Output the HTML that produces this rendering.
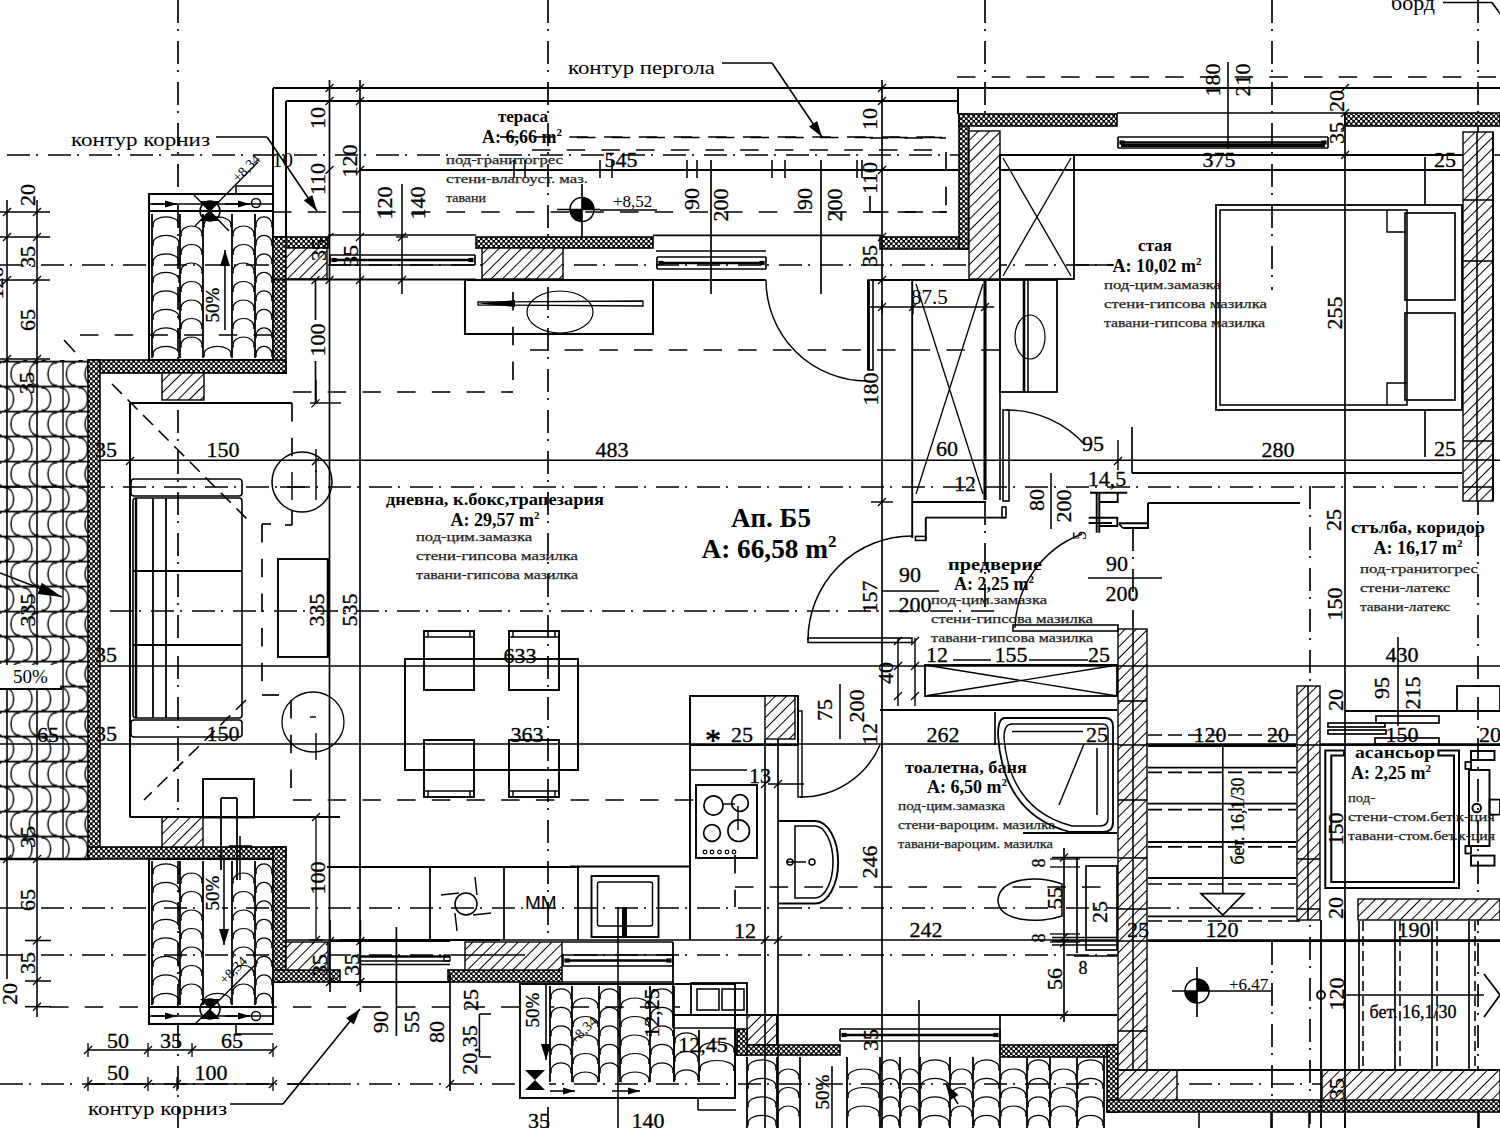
<!DOCTYPE html>
<html><head><meta charset="utf-8"><title>plan</title>
<style>html,body{margin:0;padding:0;background:#fff;overflow:hidden;width:1500px;height:1128px}
svg{display:block;font-family:"Liberation Serif",serif}</style></head>
<body><svg width="1500" height="1128" viewBox="0 0 1500 1128">
<defs>
<pattern id="dots" width="5" height="5" patternUnits="userSpaceOnUse">
 <rect width="5" height="5" fill="#000"/>
 <circle cx="1.25" cy="1.25" r="1.3" fill="#fff"/>
 <circle cx="3.75" cy="3.75" r="1.3" fill="#fff"/>
</pattern>
<pattern id="hatch" width="8" height="8" patternUnits="userSpaceOnUse" patternTransform="rotate(45)">
 <rect width="8" height="8" fill="#fff"/>
 <line x1="0" y1="0" x2="0" y2="8" stroke="#000" stroke-width="2"/>
</pattern>
<pattern id="tilev" width="51" height="19" patternUnits="userSpaceOnUse">
 <rect width="51" height="19" fill="#fff"/>
 <line x1="0.8" y1="0" x2="0.8" y2="19" stroke="#000" stroke-width="1.8"/>
 <line x1="25.5" y1="0" x2="25.5" y2="19" stroke="#000" stroke-width="1.8"/>
 <path d="M2,14 A11.5,9 0 0 1 24.5,14" fill="none" stroke="#000" stroke-width="1.2"/>
 <path d="M27,4.5 A11.5,9 0 0 1 50,4.5" fill="none" stroke="#000" stroke-width="1.2"/>
 <path d="M27,23.5 A11.5,9 0 0 1 50,23.5" fill="none" stroke="#000" stroke-width="1.2"/>
</pattern>
<pattern id="tileh" width="18.5" height="50" y="10.7" x="3" patternUnits="userSpaceOnUse">
 <rect width="18.5" height="50" fill="#fff"/>
 <line x1="0" y1="0.8" x2="18.5" y2="0.8" stroke="#000" stroke-width="1.8"/>
 <line x1="0" y1="25.8" x2="18.5" y2="25.8" stroke="#000" stroke-width="1.8"/>
 <path d="M14,2.2 A8,11.5 0 0 0 14,24.5 M14,2.2 l3,0 M14,24.5 l3,0" fill="none" stroke="#000" stroke-width="1.5"/>
 <path d="M4.5,27.2 A8,11.5 0 0 1 4.5,49.5 M4.5,27.2 l-3,0 M4.5,49.5 l-3,0" fill="none" stroke="#000" stroke-width="1.5"/>
</pattern>
</defs>
<rect width="1500" height="1128" fill="#fff"/><rect x="0" y="360" width="88" height="499" fill="url(#tileh)" stroke="none"/>
<g>
<path d="M153.2,224.2 A12.8,7.4 0 0 1 178.8,224.2" fill="none" stroke="#000" stroke-width="1.2"/>
<path d="M153.2,224.2 l0,3 M178.8,224.2 l0,3" stroke="#000" stroke-width="1.2"/>
<path d="M153.2,242.7 A12.8,7.4 0 0 1 178.8,242.7" fill="none" stroke="#000" stroke-width="1.2"/>
<path d="M153.2,242.7 l0,3 M178.8,242.7 l0,3" stroke="#000" stroke-width="1.2"/>
<path d="M153.2,261.2 A12.8,7.4 0 0 1 178.8,261.2" fill="none" stroke="#000" stroke-width="1.2"/>
<path d="M153.2,261.2 l0,3 M178.8,261.2 l0,3" stroke="#000" stroke-width="1.2"/>
<path d="M153.2,279.7 A12.8,7.4 0 0 1 178.8,279.7" fill="none" stroke="#000" stroke-width="1.2"/>
<path d="M153.2,279.7 l0,3 M178.8,279.7 l0,3" stroke="#000" stroke-width="1.2"/>
<path d="M153.2,298.2 A12.8,7.4 0 0 1 178.8,298.2" fill="none" stroke="#000" stroke-width="1.2"/>
<path d="M153.2,298.2 l0,3 M178.8,298.2 l0,3" stroke="#000" stroke-width="1.2"/>
<path d="M153.2,316.7 A12.8,7.4 0 0 1 178.8,316.7" fill="none" stroke="#000" stroke-width="1.2"/>
<path d="M153.2,316.7 l0,3 M178.8,316.7 l0,3" stroke="#000" stroke-width="1.2"/>
<path d="M153.2,335.2 A12.8,7.4 0 0 1 178.8,335.2" fill="none" stroke="#000" stroke-width="1.2"/>
<path d="M153.2,335.2 l0,3 M178.8,335.2 l0,3" stroke="#000" stroke-width="1.2"/>
<path d="M153.2,353.7 A12.8,7.4 0 0 1 178.8,353.7" fill="none" stroke="#000" stroke-width="1.2"/>
<path d="M153.2,353.7 l0,3 M178.8,353.7 l0,3" stroke="#000" stroke-width="1.2"/>
<path d="M181.2,233.4 A10.3,7.4 0 0 1 201.8,233.4" fill="none" stroke="#000" stroke-width="1.2"/>
<path d="M181.2,233.4 l0,3 M201.8,233.4 l0,3" stroke="#000" stroke-width="1.2"/>
<path d="M181.2,251.9 A10.3,7.4 0 0 1 201.8,251.9" fill="none" stroke="#000" stroke-width="1.2"/>
<path d="M181.2,251.9 l0,3 M201.8,251.9 l0,3" stroke="#000" stroke-width="1.2"/>
<path d="M181.2,270.4 A10.3,7.4 0 0 1 201.8,270.4" fill="none" stroke="#000" stroke-width="1.2"/>
<path d="M181.2,270.4 l0,3 M201.8,270.4 l0,3" stroke="#000" stroke-width="1.2"/>
<path d="M181.2,288.9 A10.3,7.4 0 0 1 201.8,288.9" fill="none" stroke="#000" stroke-width="1.2"/>
<path d="M181.2,288.9 l0,3 M201.8,288.9 l0,3" stroke="#000" stroke-width="1.2"/>
<path d="M181.2,307.4 A10.3,7.4 0 0 1 201.8,307.4" fill="none" stroke="#000" stroke-width="1.2"/>
<path d="M181.2,307.4 l0,3 M201.8,307.4 l0,3" stroke="#000" stroke-width="1.2"/>
<path d="M181.2,325.9 A10.3,7.4 0 0 1 201.8,325.9" fill="none" stroke="#000" stroke-width="1.2"/>
<path d="M181.2,325.9 l0,3 M201.8,325.9 l0,3" stroke="#000" stroke-width="1.2"/>
<path d="M181.2,344.4 A10.3,7.4 0 0 1 201.8,344.4" fill="none" stroke="#000" stroke-width="1.2"/>
<path d="M181.2,344.4 l0,3 M201.8,344.4 l0,3" stroke="#000" stroke-width="1.2"/>
<path d="M204.2,224.2 A13.3,7.4 0 0 1 230.8,224.2" fill="none" stroke="#000" stroke-width="1.2"/>
<path d="M204.2,224.2 l0,3 M230.8,224.2 l0,3" stroke="#000" stroke-width="1.2"/>
<path d="M204.2,353.7 A13.3,7.4 0 0 1 230.8,353.7" fill="none" stroke="#000" stroke-width="1.2"/>
<path d="M204.2,353.7 l0,3 M230.8,353.7 l0,3" stroke="#000" stroke-width="1.2"/>
<path d="M233.2,233.4 A10.3,7.4 0 0 1 253.8,233.4" fill="none" stroke="#000" stroke-width="1.2"/>
<path d="M233.2,233.4 l0,3 M253.8,233.4 l0,3" stroke="#000" stroke-width="1.2"/>
<path d="M233.2,251.9 A10.3,7.4 0 0 1 253.8,251.9" fill="none" stroke="#000" stroke-width="1.2"/>
<path d="M233.2,251.9 l0,3 M253.8,251.9 l0,3" stroke="#000" stroke-width="1.2"/>
<path d="M233.2,270.4 A10.3,7.4 0 0 1 253.8,270.4" fill="none" stroke="#000" stroke-width="1.2"/>
<path d="M233.2,270.4 l0,3 M253.8,270.4 l0,3" stroke="#000" stroke-width="1.2"/>
<path d="M233.2,288.9 A10.3,7.4 0 0 1 253.8,288.9" fill="none" stroke="#000" stroke-width="1.2"/>
<path d="M233.2,288.9 l0,3 M253.8,288.9 l0,3" stroke="#000" stroke-width="1.2"/>
<path d="M233.2,307.4 A10.3,7.4 0 0 1 253.8,307.4" fill="none" stroke="#000" stroke-width="1.2"/>
<path d="M233.2,307.4 l0,3 M253.8,307.4 l0,3" stroke="#000" stroke-width="1.2"/>
<path d="M233.2,325.9 A10.3,7.4 0 0 1 253.8,325.9" fill="none" stroke="#000" stroke-width="1.2"/>
<path d="M233.2,325.9 l0,3 M253.8,325.9 l0,3" stroke="#000" stroke-width="1.2"/>
<path d="M233.2,344.4 A10.3,7.4 0 0 1 253.8,344.4" fill="none" stroke="#000" stroke-width="1.2"/>
<path d="M233.2,344.4 l0,3 M253.8,344.4 l0,3" stroke="#000" stroke-width="1.2"/>
<path d="M256.2,224.2 A7.8,7.4 0 0 1 271.8,224.2" fill="none" stroke="#000" stroke-width="1.2"/>
<path d="M256.2,224.2 l0,3 M271.8,224.2 l0,3" stroke="#000" stroke-width="1.2"/>
<path d="M256.2,242.7 A7.8,7.4 0 0 1 271.8,242.7" fill="none" stroke="#000" stroke-width="1.2"/>
<path d="M256.2,242.7 l0,3 M271.8,242.7 l0,3" stroke="#000" stroke-width="1.2"/>
<path d="M256.2,261.2 A7.8,7.4 0 0 1 271.8,261.2" fill="none" stroke="#000" stroke-width="1.2"/>
<path d="M256.2,261.2 l0,3 M271.8,261.2 l0,3" stroke="#000" stroke-width="1.2"/>
<path d="M256.2,279.7 A7.8,7.4 0 0 1 271.8,279.7" fill="none" stroke="#000" stroke-width="1.2"/>
<path d="M256.2,279.7 l0,3 M271.8,279.7 l0,3" stroke="#000" stroke-width="1.2"/>
<path d="M256.2,298.2 A7.8,7.4 0 0 1 271.8,298.2" fill="none" stroke="#000" stroke-width="1.2"/>
<path d="M256.2,298.2 l0,3 M271.8,298.2 l0,3" stroke="#000" stroke-width="1.2"/>
<path d="M256.2,316.7 A7.8,7.4 0 0 1 271.8,316.7" fill="none" stroke="#000" stroke-width="1.2"/>
<path d="M256.2,316.7 l0,3 M271.8,316.7 l0,3" stroke="#000" stroke-width="1.2"/>
<path d="M256.2,335.2 A7.8,7.4 0 0 1 271.8,335.2" fill="none" stroke="#000" stroke-width="1.2"/>
<path d="M256.2,335.2 l0,3 M271.8,335.2 l0,3" stroke="#000" stroke-width="1.2"/>
<path d="M256.2,353.7 A7.8,7.4 0 0 1 271.8,353.7" fill="none" stroke="#000" stroke-width="1.2"/>
<path d="M256.2,353.7 l0,3 M271.8,353.7 l0,3" stroke="#000" stroke-width="1.2"/>
<line x1="152" y1="214" x2="152" y2="358" stroke="#000" stroke-width="1.8" />
<line x1="180" y1="214" x2="180" y2="358" stroke="#000" stroke-width="1.8" />
<line x1="203" y1="214" x2="203" y2="358" stroke="#000" stroke-width="1.8" />
<line x1="232" y1="214" x2="232" y2="358" stroke="#000" stroke-width="1.8" />
<line x1="255" y1="214" x2="255" y2="358" stroke="#000" stroke-width="1.8" />
<line x1="273" y1="214" x2="273" y2="358" stroke="#000" stroke-width="1.8" />
</g>
<g>
<path d="M153.2,871.2 A12.8,7.4 0 0 1 178.8,871.2" fill="none" stroke="#000" stroke-width="1.2"/>
<path d="M153.2,871.2 l0,3 M178.8,871.2 l0,3" stroke="#000" stroke-width="1.2"/>
<path d="M153.2,889.7 A12.8,7.4 0 0 1 178.8,889.7" fill="none" stroke="#000" stroke-width="1.2"/>
<path d="M153.2,889.7 l0,3 M178.8,889.7 l0,3" stroke="#000" stroke-width="1.2"/>
<path d="M153.2,908.2 A12.8,7.4 0 0 1 178.8,908.2" fill="none" stroke="#000" stroke-width="1.2"/>
<path d="M153.2,908.2 l0,3 M178.8,908.2 l0,3" stroke="#000" stroke-width="1.2"/>
<path d="M153.2,926.7 A12.8,7.4 0 0 1 178.8,926.7" fill="none" stroke="#000" stroke-width="1.2"/>
<path d="M153.2,926.7 l0,3 M178.8,926.7 l0,3" stroke="#000" stroke-width="1.2"/>
<path d="M153.2,945.2 A12.8,7.4 0 0 1 178.8,945.2" fill="none" stroke="#000" stroke-width="1.2"/>
<path d="M153.2,945.2 l0,3 M178.8,945.2 l0,3" stroke="#000" stroke-width="1.2"/>
<path d="M153.2,963.7 A12.8,7.4 0 0 1 178.8,963.7" fill="none" stroke="#000" stroke-width="1.2"/>
<path d="M153.2,963.7 l0,3 M178.8,963.7 l0,3" stroke="#000" stroke-width="1.2"/>
<path d="M153.2,982.2 A12.8,7.4 0 0 1 178.8,982.2" fill="none" stroke="#000" stroke-width="1.2"/>
<path d="M153.2,982.2 l0,3 M178.8,982.2 l0,3" stroke="#000" stroke-width="1.2"/>
<path d="M153.2,1000.7 A12.8,7.4 0 0 1 178.8,1000.7" fill="none" stroke="#000" stroke-width="1.2"/>
<path d="M153.2,1000.7 l0,3 M178.8,1000.7 l0,3" stroke="#000" stroke-width="1.2"/>
<path d="M181.2,880.4 A10.3,7.4 0 0 1 201.8,880.4" fill="none" stroke="#000" stroke-width="1.2"/>
<path d="M181.2,880.4 l0,3 M201.8,880.4 l0,3" stroke="#000" stroke-width="1.2"/>
<path d="M181.2,898.9 A10.3,7.4 0 0 1 201.8,898.9" fill="none" stroke="#000" stroke-width="1.2"/>
<path d="M181.2,898.9 l0,3 M201.8,898.9 l0,3" stroke="#000" stroke-width="1.2"/>
<path d="M181.2,917.4 A10.3,7.4 0 0 1 201.8,917.4" fill="none" stroke="#000" stroke-width="1.2"/>
<path d="M181.2,917.4 l0,3 M201.8,917.4 l0,3" stroke="#000" stroke-width="1.2"/>
<path d="M181.2,935.9 A10.3,7.4 0 0 1 201.8,935.9" fill="none" stroke="#000" stroke-width="1.2"/>
<path d="M181.2,935.9 l0,3 M201.8,935.9 l0,3" stroke="#000" stroke-width="1.2"/>
<path d="M181.2,954.4 A10.3,7.4 0 0 1 201.8,954.4" fill="none" stroke="#000" stroke-width="1.2"/>
<path d="M181.2,954.4 l0,3 M201.8,954.4 l0,3" stroke="#000" stroke-width="1.2"/>
<path d="M181.2,972.9 A10.3,7.4 0 0 1 201.8,972.9" fill="none" stroke="#000" stroke-width="1.2"/>
<path d="M181.2,972.9 l0,3 M201.8,972.9 l0,3" stroke="#000" stroke-width="1.2"/>
<path d="M181.2,991.4 A10.3,7.4 0 0 1 201.8,991.4" fill="none" stroke="#000" stroke-width="1.2"/>
<path d="M181.2,991.4 l0,3 M201.8,991.4 l0,3" stroke="#000" stroke-width="1.2"/>
<path d="M204.2,1000.7 A13.3,7.4 0 0 1 230.8,1000.7" fill="none" stroke="#000" stroke-width="1.2"/>
<path d="M204.2,1000.7 l0,3 M230.8,1000.7 l0,3" stroke="#000" stroke-width="1.2"/>
<path d="M233.2,880.4 A10.3,7.4 0 0 1 253.8,880.4" fill="none" stroke="#000" stroke-width="1.2"/>
<path d="M233.2,880.4 l0,3 M253.8,880.4 l0,3" stroke="#000" stroke-width="1.2"/>
<path d="M233.2,898.9 A10.3,7.4 0 0 1 253.8,898.9" fill="none" stroke="#000" stroke-width="1.2"/>
<path d="M233.2,898.9 l0,3 M253.8,898.9 l0,3" stroke="#000" stroke-width="1.2"/>
<path d="M233.2,917.4 A10.3,7.4 0 0 1 253.8,917.4" fill="none" stroke="#000" stroke-width="1.2"/>
<path d="M233.2,917.4 l0,3 M253.8,917.4 l0,3" stroke="#000" stroke-width="1.2"/>
<path d="M233.2,935.9 A10.3,7.4 0 0 1 253.8,935.9" fill="none" stroke="#000" stroke-width="1.2"/>
<path d="M233.2,935.9 l0,3 M253.8,935.9 l0,3" stroke="#000" stroke-width="1.2"/>
<path d="M233.2,954.4 A10.3,7.4 0 0 1 253.8,954.4" fill="none" stroke="#000" stroke-width="1.2"/>
<path d="M233.2,954.4 l0,3 M253.8,954.4 l0,3" stroke="#000" stroke-width="1.2"/>
<path d="M233.2,972.9 A10.3,7.4 0 0 1 253.8,972.9" fill="none" stroke="#000" stroke-width="1.2"/>
<path d="M233.2,972.9 l0,3 M253.8,972.9 l0,3" stroke="#000" stroke-width="1.2"/>
<path d="M233.2,991.4 A10.3,7.4 0 0 1 253.8,991.4" fill="none" stroke="#000" stroke-width="1.2"/>
<path d="M233.2,991.4 l0,3 M253.8,991.4 l0,3" stroke="#000" stroke-width="1.2"/>
<path d="M256.2,871.2 A7.8,7.4 0 0 1 271.8,871.2" fill="none" stroke="#000" stroke-width="1.2"/>
<path d="M256.2,871.2 l0,3 M271.8,871.2 l0,3" stroke="#000" stroke-width="1.2"/>
<path d="M256.2,889.7 A7.8,7.4 0 0 1 271.8,889.7" fill="none" stroke="#000" stroke-width="1.2"/>
<path d="M256.2,889.7 l0,3 M271.8,889.7 l0,3" stroke="#000" stroke-width="1.2"/>
<path d="M256.2,908.2 A7.8,7.4 0 0 1 271.8,908.2" fill="none" stroke="#000" stroke-width="1.2"/>
<path d="M256.2,908.2 l0,3 M271.8,908.2 l0,3" stroke="#000" stroke-width="1.2"/>
<path d="M256.2,926.7 A7.8,7.4 0 0 1 271.8,926.7" fill="none" stroke="#000" stroke-width="1.2"/>
<path d="M256.2,926.7 l0,3 M271.8,926.7 l0,3" stroke="#000" stroke-width="1.2"/>
<path d="M256.2,945.2 A7.8,7.4 0 0 1 271.8,945.2" fill="none" stroke="#000" stroke-width="1.2"/>
<path d="M256.2,945.2 l0,3 M271.8,945.2 l0,3" stroke="#000" stroke-width="1.2"/>
<path d="M256.2,963.7 A7.8,7.4 0 0 1 271.8,963.7" fill="none" stroke="#000" stroke-width="1.2"/>
<path d="M256.2,963.7 l0,3 M271.8,963.7 l0,3" stroke="#000" stroke-width="1.2"/>
<path d="M256.2,982.2 A7.8,7.4 0 0 1 271.8,982.2" fill="none" stroke="#000" stroke-width="1.2"/>
<path d="M256.2,982.2 l0,3 M271.8,982.2 l0,3" stroke="#000" stroke-width="1.2"/>
<path d="M256.2,1000.7 A7.8,7.4 0 0 1 271.8,1000.7" fill="none" stroke="#000" stroke-width="1.2"/>
<path d="M256.2,1000.7 l0,3 M271.8,1000.7 l0,3" stroke="#000" stroke-width="1.2"/>
<line x1="152" y1="861" x2="152" y2="1005" stroke="#000" stroke-width="1.8" />
<line x1="180" y1="861" x2="180" y2="1005" stroke="#000" stroke-width="1.8" />
<line x1="203" y1="861" x2="203" y2="1005" stroke="#000" stroke-width="1.8" />
<line x1="232" y1="861" x2="232" y2="1005" stroke="#000" stroke-width="1.8" />
<line x1="255" y1="861" x2="255" y2="1005" stroke="#000" stroke-width="1.8" />
<line x1="273" y1="861" x2="273" y2="1005" stroke="#000" stroke-width="1.8" />
</g>
<g>
<path d="M551.2,996.2 A9.8,7.4 0 0 1 570.8,996.2" fill="none" stroke="#000" stroke-width="1.2"/>
<path d="M551.2,996.2 l0,3 M570.8,996.2 l0,3" stroke="#000" stroke-width="1.2"/>
<path d="M551.2,1014.7 A9.8,7.4 0 0 1 570.8,1014.7" fill="none" stroke="#000" stroke-width="1.2"/>
<path d="M551.2,1014.7 l0,3 M570.8,1014.7 l0,3" stroke="#000" stroke-width="1.2"/>
<path d="M551.2,1033.2 A9.8,7.4 0 0 1 570.8,1033.2" fill="none" stroke="#000" stroke-width="1.2"/>
<path d="M551.2,1033.2 l0,3 M570.8,1033.2 l0,3" stroke="#000" stroke-width="1.2"/>
<path d="M551.2,1051.7 A9.8,7.4 0 0 1 570.8,1051.7" fill="none" stroke="#000" stroke-width="1.2"/>
<path d="M551.2,1051.7 l0,3 M570.8,1051.7 l0,3" stroke="#000" stroke-width="1.2"/>
<path d="M551.2,1070.2 A9.8,7.4 0 0 1 570.8,1070.2" fill="none" stroke="#000" stroke-width="1.2"/>
<path d="M551.2,1070.2 l0,3 M570.8,1070.2 l0,3" stroke="#000" stroke-width="1.2"/>
<path d="M573.2,1005.4 A12.3,7.4 0 0 1 597.8,1005.4" fill="none" stroke="#000" stroke-width="1.2"/>
<path d="M573.2,1005.4 l0,3 M597.8,1005.4 l0,3" stroke="#000" stroke-width="1.2"/>
<path d="M573.2,1023.9 A12.3,7.4 0 0 1 597.8,1023.9" fill="none" stroke="#000" stroke-width="1.2"/>
<path d="M573.2,1023.9 l0,3 M597.8,1023.9 l0,3" stroke="#000" stroke-width="1.2"/>
<path d="M573.2,1042.4 A12.3,7.4 0 0 1 597.8,1042.4" fill="none" stroke="#000" stroke-width="1.2"/>
<path d="M573.2,1042.4 l0,3 M597.8,1042.4 l0,3" stroke="#000" stroke-width="1.2"/>
<path d="M573.2,1060.9 A12.3,7.4 0 0 1 597.8,1060.9" fill="none" stroke="#000" stroke-width="1.2"/>
<path d="M573.2,1060.9 l0,3 M597.8,1060.9 l0,3" stroke="#000" stroke-width="1.2"/>
<path d="M573.2,1079.4 A12.3,7.4 0 0 1 597.8,1079.4" fill="none" stroke="#000" stroke-width="1.2"/>
<path d="M573.2,1079.4 l0,3 M597.8,1079.4 l0,3" stroke="#000" stroke-width="1.2"/>
<path d="M600.2,996.2 A9.3,7.4 0 0 1 618.8,996.2" fill="none" stroke="#000" stroke-width="1.2"/>
<path d="M600.2,996.2 l0,3 M618.8,996.2 l0,3" stroke="#000" stroke-width="1.2"/>
<path d="M600.2,1014.7 A9.3,7.4 0 0 1 618.8,1014.7" fill="none" stroke="#000" stroke-width="1.2"/>
<path d="M600.2,1014.7 l0,3 M618.8,1014.7 l0,3" stroke="#000" stroke-width="1.2"/>
<path d="M600.2,1033.2 A9.3,7.4 0 0 1 618.8,1033.2" fill="none" stroke="#000" stroke-width="1.2"/>
<path d="M600.2,1033.2 l0,3 M618.8,1033.2 l0,3" stroke="#000" stroke-width="1.2"/>
<path d="M600.2,1051.7 A9.3,7.4 0 0 1 618.8,1051.7" fill="none" stroke="#000" stroke-width="1.2"/>
<path d="M600.2,1051.7 l0,3 M618.8,1051.7 l0,3" stroke="#000" stroke-width="1.2"/>
<path d="M600.2,1070.2 A9.3,7.4 0 0 1 618.8,1070.2" fill="none" stroke="#000" stroke-width="1.2"/>
<path d="M600.2,1070.2 l0,3 M618.8,1070.2 l0,3" stroke="#000" stroke-width="1.2"/>
<path d="M621.2,1005.4 A13.8,7.4 0 0 1 648.8,1005.4" fill="none" stroke="#000" stroke-width="1.2"/>
<path d="M621.2,1005.4 l0,3 M648.8,1005.4 l0,3" stroke="#000" stroke-width="1.2"/>
<path d="M621.2,1023.9 A13.8,7.4 0 0 1 648.8,1023.9" fill="none" stroke="#000" stroke-width="1.2"/>
<path d="M621.2,1023.9 l0,3 M648.8,1023.9 l0,3" stroke="#000" stroke-width="1.2"/>
<path d="M621.2,1042.4 A13.8,7.4 0 0 1 648.8,1042.4" fill="none" stroke="#000" stroke-width="1.2"/>
<path d="M621.2,1042.4 l0,3 M648.8,1042.4 l0,3" stroke="#000" stroke-width="1.2"/>
<path d="M621.2,1060.9 A13.8,7.4 0 0 1 648.8,1060.9" fill="none" stroke="#000" stroke-width="1.2"/>
<path d="M621.2,1060.9 l0,3 M648.8,1060.9 l0,3" stroke="#000" stroke-width="1.2"/>
<path d="M621.2,1079.4 A13.8,7.4 0 0 1 648.8,1079.4" fill="none" stroke="#000" stroke-width="1.2"/>
<path d="M621.2,1079.4 l0,3 M648.8,1079.4 l0,3" stroke="#000" stroke-width="1.2"/>
<path d="M651.2,996.2 A10.8,7.4 0 0 1 672.8,996.2" fill="none" stroke="#000" stroke-width="1.2"/>
<path d="M651.2,996.2 l0,3 M672.8,996.2 l0,3" stroke="#000" stroke-width="1.2"/>
<path d="M651.2,1014.7 A10.8,7.4 0 0 1 672.8,1014.7" fill="none" stroke="#000" stroke-width="1.2"/>
<path d="M651.2,1014.7 l0,3 M672.8,1014.7 l0,3" stroke="#000" stroke-width="1.2"/>
<path d="M651.2,1033.2 A10.8,7.4 0 0 1 672.8,1033.2" fill="none" stroke="#000" stroke-width="1.2"/>
<path d="M651.2,1033.2 l0,3 M672.8,1033.2 l0,3" stroke="#000" stroke-width="1.2"/>
<path d="M651.2,1051.7 A10.8,7.4 0 0 1 672.8,1051.7" fill="none" stroke="#000" stroke-width="1.2"/>
<path d="M651.2,1051.7 l0,3 M672.8,1051.7 l0,3" stroke="#000" stroke-width="1.2"/>
<path d="M651.2,1070.2 A10.8,7.4 0 0 1 672.8,1070.2" fill="none" stroke="#000" stroke-width="1.2"/>
<path d="M651.2,1070.2 l0,3 M672.8,1070.2 l0,3" stroke="#000" stroke-width="1.2"/>
<line x1="550" y1="986" x2="550" y2="1082" stroke="#000" stroke-width="1.8" />
<line x1="572" y1="986" x2="572" y2="1082" stroke="#000" stroke-width="1.8" />
<line x1="599" y1="986" x2="599" y2="1082" stroke="#000" stroke-width="1.8" />
<line x1="620" y1="986" x2="620" y2="1082" stroke="#000" stroke-width="1.8" />
<line x1="650" y1="986" x2="650" y2="1082" stroke="#000" stroke-width="1.8" />
<line x1="674" y1="986" x2="674" y2="1082" stroke="#000" stroke-width="1.8" />
</g>
<g>
<path d="M675.2,1040.2 A11.3,7.4 0 0 1 697.8,1040.2" fill="none" stroke="#000" stroke-width="1.2"/>
<path d="M675.2,1040.2 l0,3 M697.8,1040.2 l0,3" stroke="#000" stroke-width="1.2"/>
<path d="M675.2,1058.7 A11.3,7.4 0 0 1 697.8,1058.7" fill="none" stroke="#000" stroke-width="1.2"/>
<path d="M675.2,1058.7 l0,3 M697.8,1058.7 l0,3" stroke="#000" stroke-width="1.2"/>
<path d="M675.2,1077.2 A11.3,7.4 0 0 1 697.8,1077.2" fill="none" stroke="#000" stroke-width="1.2"/>
<path d="M675.2,1077.2 l0,3 M697.8,1077.2 l0,3" stroke="#000" stroke-width="1.2"/>
<path d="M700.2,1049.4 A16.8,7.4 0 0 1 733.8,1049.4" fill="none" stroke="#000" stroke-width="1.2"/>
<path d="M700.2,1049.4 l0,3 M733.8,1049.4 l0,3" stroke="#000" stroke-width="1.2"/>
<path d="M700.2,1067.9 A16.8,7.4 0 0 1 733.8,1067.9" fill="none" stroke="#000" stroke-width="1.2"/>
<path d="M700.2,1067.9 l0,3 M733.8,1067.9 l0,3" stroke="#000" stroke-width="1.2"/>
<line x1="674" y1="1030" x2="674" y2="1082" stroke="#000" stroke-width="1.8" />
<line x1="699" y1="1030" x2="699" y2="1082" stroke="#000" stroke-width="1.8" />
<line x1="735" y1="1030" x2="735" y2="1082" stroke="#000" stroke-width="1.8" />
</g>
<g>
<path d="M748.2,1067.2 A13.8,7.4 0 0 1 775.8,1067.2" fill="none" stroke="#000" stroke-width="1.2"/>
<path d="M748.2,1067.2 l0,3 M775.8,1067.2 l0,3" stroke="#000" stroke-width="1.2"/>
<path d="M748.2,1085.7 A13.8,7.4 0 0 1 775.8,1085.7" fill="none" stroke="#000" stroke-width="1.2"/>
<path d="M748.2,1085.7 l0,3 M775.8,1085.7 l0,3" stroke="#000" stroke-width="1.2"/>
<path d="M748.2,1104.2 A13.8,7.4 0 0 1 775.8,1104.2" fill="none" stroke="#000" stroke-width="1.2"/>
<path d="M748.2,1104.2 l0,3 M775.8,1104.2 l0,3" stroke="#000" stroke-width="1.2"/>
<path d="M748.2,1122.7 A13.8,7.4 0 0 1 775.8,1122.7" fill="none" stroke="#000" stroke-width="1.2"/>
<path d="M748.2,1122.7 l0,3 M775.8,1122.7 l0,3" stroke="#000" stroke-width="1.2"/>
<path d="M778.2,1076.4 A10.3,7.4 0 0 1 798.8,1076.4" fill="none" stroke="#000" stroke-width="1.2"/>
<path d="M778.2,1076.4 l0,3 M798.8,1076.4 l0,3" stroke="#000" stroke-width="1.2"/>
<path d="M778.2,1094.9 A10.3,7.4 0 0 1 798.8,1094.9" fill="none" stroke="#000" stroke-width="1.2"/>
<path d="M778.2,1094.9 l0,3 M798.8,1094.9 l0,3" stroke="#000" stroke-width="1.2"/>
<path d="M778.2,1113.4 A10.3,7.4 0 0 1 798.8,1113.4" fill="none" stroke="#000" stroke-width="1.2"/>
<path d="M778.2,1113.4 l0,3 M798.8,1113.4 l0,3" stroke="#000" stroke-width="1.2"/>
<path d="M848.2,1076.4 A15.3,7.4 0 0 1 878.8,1076.4" fill="none" stroke="#000" stroke-width="1.2"/>
<path d="M848.2,1076.4 l0,3 M878.8,1076.4 l0,3" stroke="#000" stroke-width="1.2"/>
<path d="M848.2,1094.9 A15.3,7.4 0 0 1 878.8,1094.9" fill="none" stroke="#000" stroke-width="1.2"/>
<path d="M848.2,1094.9 l0,3 M878.8,1094.9 l0,3" stroke="#000" stroke-width="1.2"/>
<path d="M848.2,1113.4 A15.3,7.4 0 0 1 878.8,1113.4" fill="none" stroke="#000" stroke-width="1.2"/>
<path d="M848.2,1113.4 l0,3 M878.8,1113.4 l0,3" stroke="#000" stroke-width="1.2"/>
<path d="M881.2,1067.2 A8.8,7.4 0 0 1 898.8,1067.2" fill="none" stroke="#000" stroke-width="1.2"/>
<path d="M881.2,1067.2 l0,3 M898.8,1067.2 l0,3" stroke="#000" stroke-width="1.2"/>
<path d="M881.2,1085.7 A8.8,7.4 0 0 1 898.8,1085.7" fill="none" stroke="#000" stroke-width="1.2"/>
<path d="M881.2,1085.7 l0,3 M898.8,1085.7 l0,3" stroke="#000" stroke-width="1.2"/>
<path d="M881.2,1104.2 A8.8,7.4 0 0 1 898.8,1104.2" fill="none" stroke="#000" stroke-width="1.2"/>
<path d="M881.2,1104.2 l0,3 M898.8,1104.2 l0,3" stroke="#000" stroke-width="1.2"/>
<path d="M881.2,1122.7 A8.8,7.4 0 0 1 898.8,1122.7" fill="none" stroke="#000" stroke-width="1.2"/>
<path d="M881.2,1122.7 l0,3 M898.8,1122.7 l0,3" stroke="#000" stroke-width="1.2"/>
<path d="M901.2,1076.4 A8.8,7.4 0 0 1 918.8,1076.4" fill="none" stroke="#000" stroke-width="1.2"/>
<path d="M901.2,1076.4 l0,3 M918.8,1076.4 l0,3" stroke="#000" stroke-width="1.2"/>
<path d="M901.2,1094.9 A8.8,7.4 0 0 1 918.8,1094.9" fill="none" stroke="#000" stroke-width="1.2"/>
<path d="M901.2,1094.9 l0,3 M918.8,1094.9 l0,3" stroke="#000" stroke-width="1.2"/>
<path d="M901.2,1113.4 A8.8,7.4 0 0 1 918.8,1113.4" fill="none" stroke="#000" stroke-width="1.2"/>
<path d="M901.2,1113.4 l0,3 M918.8,1113.4 l0,3" stroke="#000" stroke-width="1.2"/>
<path d="M921.2,1067.2 A13.8,7.4 0 0 1 948.8,1067.2" fill="none" stroke="#000" stroke-width="1.2"/>
<path d="M921.2,1067.2 l0,3 M948.8,1067.2 l0,3" stroke="#000" stroke-width="1.2"/>
<path d="M921.2,1085.7 A13.8,7.4 0 0 1 948.8,1085.7" fill="none" stroke="#000" stroke-width="1.2"/>
<path d="M921.2,1085.7 l0,3 M948.8,1085.7 l0,3" stroke="#000" stroke-width="1.2"/>
<path d="M921.2,1104.2 A13.8,7.4 0 0 1 948.8,1104.2" fill="none" stroke="#000" stroke-width="1.2"/>
<path d="M921.2,1104.2 l0,3 M948.8,1104.2 l0,3" stroke="#000" stroke-width="1.2"/>
<path d="M921.2,1122.7 A13.8,7.4 0 0 1 948.8,1122.7" fill="none" stroke="#000" stroke-width="1.2"/>
<path d="M921.2,1122.7 l0,3 M948.8,1122.7 l0,3" stroke="#000" stroke-width="1.2"/>
<path d="M951.2,1076.4 A10.3,7.4 0 0 1 971.8,1076.4" fill="none" stroke="#000" stroke-width="1.2"/>
<path d="M951.2,1076.4 l0,3 M971.8,1076.4 l0,3" stroke="#000" stroke-width="1.2"/>
<path d="M951.2,1094.9 A10.3,7.4 0 0 1 971.8,1094.9" fill="none" stroke="#000" stroke-width="1.2"/>
<path d="M951.2,1094.9 l0,3 M971.8,1094.9 l0,3" stroke="#000" stroke-width="1.2"/>
<path d="M951.2,1113.4 A10.3,7.4 0 0 1 971.8,1113.4" fill="none" stroke="#000" stroke-width="1.2"/>
<path d="M951.2,1113.4 l0,3 M971.8,1113.4 l0,3" stroke="#000" stroke-width="1.2"/>
<path d="M974.2,1067.2 A12.3,7.4 0 0 1 998.8,1067.2" fill="none" stroke="#000" stroke-width="1.2"/>
<path d="M974.2,1067.2 l0,3 M998.8,1067.2 l0,3" stroke="#000" stroke-width="1.2"/>
<path d="M974.2,1085.7 A12.3,7.4 0 0 1 998.8,1085.7" fill="none" stroke="#000" stroke-width="1.2"/>
<path d="M974.2,1085.7 l0,3 M998.8,1085.7 l0,3" stroke="#000" stroke-width="1.2"/>
<path d="M974.2,1104.2 A12.3,7.4 0 0 1 998.8,1104.2" fill="none" stroke="#000" stroke-width="1.2"/>
<path d="M974.2,1104.2 l0,3 M998.8,1104.2 l0,3" stroke="#000" stroke-width="1.2"/>
<path d="M974.2,1122.7 A12.3,7.4 0 0 1 998.8,1122.7" fill="none" stroke="#000" stroke-width="1.2"/>
<path d="M974.2,1122.7 l0,3 M998.8,1122.7 l0,3" stroke="#000" stroke-width="1.2"/>
<path d="M1001.2,1076.4 A12.3,7.4 0 0 1 1025.8,1076.4" fill="none" stroke="#000" stroke-width="1.2"/>
<path d="M1001.2,1076.4 l0,3 M1025.8,1076.4 l0,3" stroke="#000" stroke-width="1.2"/>
<path d="M1001.2,1094.9 A12.3,7.4 0 0 1 1025.8,1094.9" fill="none" stroke="#000" stroke-width="1.2"/>
<path d="M1001.2,1094.9 l0,3 M1025.8,1094.9 l0,3" stroke="#000" stroke-width="1.2"/>
<path d="M1001.2,1113.4 A12.3,7.4 0 0 1 1025.8,1113.4" fill="none" stroke="#000" stroke-width="1.2"/>
<path d="M1001.2,1113.4 l0,3 M1025.8,1113.4 l0,3" stroke="#000" stroke-width="1.2"/>
<path d="M1028.2,1067.2 A10.3,7.4 0 0 1 1048.8,1067.2" fill="none" stroke="#000" stroke-width="1.2"/>
<path d="M1028.2,1067.2 l0,3 M1048.8,1067.2 l0,3" stroke="#000" stroke-width="1.2"/>
<path d="M1028.2,1085.7 A10.3,7.4 0 0 1 1048.8,1085.7" fill="none" stroke="#000" stroke-width="1.2"/>
<path d="M1028.2,1085.7 l0,3 M1048.8,1085.7 l0,3" stroke="#000" stroke-width="1.2"/>
<path d="M1028.2,1104.2 A10.3,7.4 0 0 1 1048.8,1104.2" fill="none" stroke="#000" stroke-width="1.2"/>
<path d="M1028.2,1104.2 l0,3 M1048.8,1104.2 l0,3" stroke="#000" stroke-width="1.2"/>
<path d="M1028.2,1122.7 A10.3,7.4 0 0 1 1048.8,1122.7" fill="none" stroke="#000" stroke-width="1.2"/>
<path d="M1028.2,1122.7 l0,3 M1048.8,1122.7 l0,3" stroke="#000" stroke-width="1.2"/>
<path d="M1051.2,1076.4 A12.3,7.4 0 0 1 1075.8,1076.4" fill="none" stroke="#000" stroke-width="1.2"/>
<path d="M1051.2,1076.4 l0,3 M1075.8,1076.4 l0,3" stroke="#000" stroke-width="1.2"/>
<path d="M1051.2,1094.9 A12.3,7.4 0 0 1 1075.8,1094.9" fill="none" stroke="#000" stroke-width="1.2"/>
<path d="M1051.2,1094.9 l0,3 M1075.8,1094.9 l0,3" stroke="#000" stroke-width="1.2"/>
<path d="M1051.2,1113.4 A12.3,7.4 0 0 1 1075.8,1113.4" fill="none" stroke="#000" stroke-width="1.2"/>
<path d="M1051.2,1113.4 l0,3 M1075.8,1113.4 l0,3" stroke="#000" stroke-width="1.2"/>
<path d="M1078.2,1067.2 A12.3,7.4 0 0 1 1102.8,1067.2" fill="none" stroke="#000" stroke-width="1.2"/>
<path d="M1078.2,1067.2 l0,3 M1102.8,1067.2 l0,3" stroke="#000" stroke-width="1.2"/>
<path d="M1078.2,1085.7 A12.3,7.4 0 0 1 1102.8,1085.7" fill="none" stroke="#000" stroke-width="1.2"/>
<path d="M1078.2,1085.7 l0,3 M1102.8,1085.7 l0,3" stroke="#000" stroke-width="1.2"/>
<path d="M1078.2,1104.2 A12.3,7.4 0 0 1 1102.8,1104.2" fill="none" stroke="#000" stroke-width="1.2"/>
<path d="M1078.2,1104.2 l0,3 M1102.8,1104.2 l0,3" stroke="#000" stroke-width="1.2"/>
<path d="M1078.2,1122.7 A12.3,7.4 0 0 1 1102.8,1122.7" fill="none" stroke="#000" stroke-width="1.2"/>
<path d="M1078.2,1122.7 l0,3 M1102.8,1122.7 l0,3" stroke="#000" stroke-width="1.2"/>
<line x1="747" y1="1057" x2="747" y2="1128" stroke="#000" stroke-width="1.8" />
<line x1="777" y1="1057" x2="777" y2="1128" stroke="#000" stroke-width="1.8" />
<line x1="800" y1="1057" x2="800" y2="1128" stroke="#000" stroke-width="1.8" />
<line x1="847" y1="1057" x2="847" y2="1128" stroke="#000" stroke-width="1.8" />
<line x1="880" y1="1057" x2="880" y2="1128" stroke="#000" stroke-width="1.8" />
<line x1="900" y1="1057" x2="900" y2="1128" stroke="#000" stroke-width="1.8" />
<line x1="920" y1="1057" x2="920" y2="1128" stroke="#000" stroke-width="1.8" />
<line x1="950" y1="1057" x2="950" y2="1128" stroke="#000" stroke-width="1.8" />
<line x1="973" y1="1057" x2="973" y2="1128" stroke="#000" stroke-width="1.8" />
<line x1="1000" y1="1057" x2="1000" y2="1128" stroke="#000" stroke-width="1.8" />
<line x1="1027" y1="1057" x2="1027" y2="1128" stroke="#000" stroke-width="1.8" />
<line x1="1050" y1="1057" x2="1050" y2="1128" stroke="#000" stroke-width="1.8" />
<line x1="1077" y1="1057" x2="1077" y2="1128" stroke="#000" stroke-width="1.8" />
<line x1="1104" y1="1057" x2="1104" y2="1128" stroke="#000" stroke-width="1.8" />
</g>
<line x1="7" y1="155" x2="1500" y2="155" stroke="#000" stroke-width="1.68" stroke-dasharray="23 6 2 10" stroke-dashoffset="0"/>
<line x1="0" y1="265" x2="1113" y2="265" stroke="#000" stroke-width="1.68" stroke-dasharray="23 6 2 10" stroke-dashoffset="0"/>
<line x1="0" y1="487" x2="1463" y2="487" stroke="#000" stroke-width="1.68" stroke-dasharray="23 6 2 10" stroke-dashoffset="0"/>
<line x1="110" y1="611" x2="1000" y2="611" stroke="#000" stroke-width="1.68" stroke-dasharray="23 6 2 10" stroke-dashoffset="0"/>
<line x1="0" y1="908" x2="1300" y2="908" stroke="#000" stroke-width="1.68" stroke-dasharray="23 6 2 10" stroke-dashoffset="0"/>
<line x1="0" y1="955" x2="1118" y2="955" stroke="#000" stroke-width="1.68" stroke-dasharray="23 6 2 10" stroke-dashoffset="0"/>
<line x1="0" y1="1084" x2="1500" y2="1084" stroke="#000" stroke-width="1.68" stroke-dasharray="23 6 2 10" stroke-dashoffset="0"/>
<line x1="178" y1="0" x2="178" y2="1128" stroke="#000" stroke-width="1.68" stroke-dasharray="23 6 2 10" stroke-dashoffset="0"/>
<line x1="548" y1="0" x2="548" y2="1128" stroke="#000" stroke-width="1.68" stroke-dasharray="23 6 2 10" stroke-dashoffset="0"/>
<line x1="985" y1="0" x2="985" y2="114" stroke="#000" stroke-width="1.68" stroke-dasharray="23 6 2 10" stroke-dashoffset="0"/>
<line x1="1272" y1="0" x2="1272" y2="290" stroke="#000" stroke-width="1.68" stroke-dasharray="23 6 2 10" stroke-dashoffset="0"/>
<line x1="1272" y1="942" x2="1272" y2="1128" stroke="#000" stroke-width="1.68" stroke-dasharray="23 6 2 10" stroke-dashoffset="0"/>
<line x1="1478" y1="0" x2="1478" y2="1128" stroke="#000" stroke-width="1.68" stroke-dasharray="23 6 2 10" stroke-dashoffset="0"/>
<line x1="1310" y1="486" x2="1310" y2="1128" stroke="#000" stroke-width="1.68" stroke-dasharray="23 6 2 10" stroke-dashoffset="0"/>
<line x1="1133" y1="528" x2="1133" y2="752" stroke="#000" stroke-width="1.68" stroke-dasharray="23 6 2 10" stroke-dashoffset="0"/>
<line x1="957" y1="77" x2="1500" y2="77" stroke="#000" stroke-width="1.68" stroke-dasharray="18.5 16.2" stroke-dashoffset="0"/>
<line x1="500" y1="137" x2="947" y2="137" stroke="#000" stroke-width="1.68" stroke-dasharray="18.5 16.2" stroke-dashoffset="0"/>
<line x1="273" y1="212" x2="947" y2="212" stroke="#000" stroke-width="1.68" stroke-dasharray="18.5 16.2" stroke-dashoffset="0"/>
<line x1="530" y1="350" x2="1000" y2="350" stroke="#000" stroke-width="1.68" stroke-dasharray="18.5 16.2" stroke-dashoffset="0"/>
<line x1="80" y1="335" x2="272" y2="335" stroke="#000" stroke-width="1.68" stroke-dasharray="18.5 16.2" stroke-dashoffset="0"/>
<line x1="293" y1="800" x2="694" y2="800" stroke="#000" stroke-width="1.68" stroke-dasharray="18.5 16.2" stroke-dashoffset="0"/>
<line x1="735" y1="887" x2="1117" y2="887" stroke="#000" stroke-width="1.68" stroke-dasharray="18.5 16.2" stroke-dashoffset="0"/>
<line x1="50" y1="1007" x2="680" y2="1007" stroke="#000" stroke-width="1.68" stroke-dasharray="18.5 16.2" stroke-dashoffset="0"/>
<line x1="100" y1="460.3" x2="1500" y2="460.3" stroke="#000" stroke-width="1.56" />
<line x1="100" y1="666" x2="1500" y2="666" stroke="#000" stroke-width="1.56" />
<line x1="0" y1="744" x2="1500" y2="744" stroke="#000" stroke-width="1.56" />
<line x1="273" y1="940" x2="1500" y2="940" stroke="#000" stroke-width="1.56" />
<rect x="273" y="237" width="55" height="11" fill="url(#dots)" stroke="#000" stroke-width="1.6"/>
<rect x="273" y="237" width="13" height="136" fill="url(#dots)" stroke="#000" stroke-width="1.6"/>
<rect x="88" y="360" width="198" height="13" fill="url(#dots)" stroke="#000" stroke-width="1.6"/>
<rect x="88" y="360" width="12" height="499" fill="url(#dots)" stroke="#000" stroke-width="1.6"/>
<rect x="88" y="847" width="198" height="12" fill="url(#dots)" stroke="#000" stroke-width="1.6"/>
<rect x="273" y="847" width="13" height="135" fill="url(#dots)" stroke="#000" stroke-width="1.6"/>
<rect x="273" y="970" width="67" height="12" fill="url(#dots)" stroke="#000" stroke-width="1.6"/>
<rect x="286" y="248" width="41" height="31" fill="url(#hatch)" stroke="#000" stroke-width="1.4"/>
<rect x="286" y="942" width="42" height="28" fill="url(#hatch)" stroke="#000" stroke-width="1.4"/>
<rect x="162" y="373" width="42" height="27" fill="url(#hatch)" stroke="#000" stroke-width="1.4"/>
<rect x="162" y="817" width="41" height="30" fill="url(#hatch)" stroke="#000" stroke-width="1.4"/>
<rect x="476" y="237" width="177" height="11" fill="url(#dots)" stroke="#000" stroke-width="1.6"/>
<rect x="482" y="248" width="81" height="31" fill="url(#hatch)" stroke="#000" stroke-width="1.4"/>
<rect x="880" y="237" width="90" height="12" fill="url(#dots)" stroke="#000" stroke-width="1.6"/>
<rect x="959" y="114" width="10" height="135" fill="url(#dots)" stroke="#000" stroke-width="1.6"/>
<rect x="959" y="114" width="158" height="12" fill="url(#dots)" stroke="#000" stroke-width="1.6"/>
<rect x="969" y="131" width="31" height="148" fill="url(#hatch)" stroke="#000" stroke-width="1.4"/>
<rect x="1345" y="113" width="155" height="13" fill="url(#dots)" stroke="#000" stroke-width="1.6"/>
<rect x="1463" y="132" width="30" height="369" fill="url(#hatch)" stroke="#000" stroke-width="1.4"/>
<rect x="448" y="970" width="114" height="12" fill="url(#dots)" stroke="#000" stroke-width="1.6"/>
<rect x="465" y="942" width="97" height="28" fill="url(#hatch)" stroke="#000" stroke-width="1.4"/>
<rect x="747" y="1015" width="30" height="30" fill="url(#hatch)" stroke="#000" stroke-width="1.4"/>
<rect x="737" y="1045" width="103" height="10" fill="url(#dots)" stroke="#000" stroke-width="1.6"/>
<rect x="737" y="1029" width="10" height="26" fill="url(#dots)" stroke="#000" stroke-width="1.6"/>
<rect x="1000" y="1045" width="118" height="12" fill="url(#dots)" stroke="#000" stroke-width="1.6"/>
<rect x="1107" y="1045" width="11" height="67" fill="url(#dots)" stroke="#000" stroke-width="1.6"/>
<rect x="1107" y="1100" width="393" height="12" fill="url(#dots)" stroke="#000" stroke-width="1.6"/>
<rect x="1118" y="1070" width="59" height="30" fill="url(#hatch)" stroke="#000" stroke-width="1.4"/>
<rect x="1322" y="1070" width="178" height="30" fill="url(#hatch)" stroke="#000" stroke-width="1.4"/>
<rect x="1118" y="629" width="29" height="441" fill="url(#hatch)" stroke="#000" stroke-width="1.4"/>
<rect x="1297" y="686" width="23" height="234" fill="url(#hatch)" stroke="#000" stroke-width="1.4"/>
<rect x="1358" y="899" width="142" height="21" fill="url(#hatch)" stroke="#000" stroke-width="1.4"/>
<text x="71" y="146" font-size="18.5" font-family="Liberation Serif" text-anchor="start" font-weight="normal" textLength="139" lengthAdjust="spacingAndGlyphs" >контур корниз</text>
<line x1="216" y1="137" x2="267" y2="137" stroke="#000" stroke-width="1.56" />
<line x1="267" y1="137" x2="317" y2="211" stroke="#000" stroke-width="1.56" />
<path d="M317,211 L303.9,200.5 L312.2,194.9 Z" fill="#000"/>
<line x1="7" y1="200" x2="7" y2="979" stroke="#000" stroke-width="1.56" />
<line x1="37" y1="200" x2="37" y2="1017" stroke="#000" stroke-width="1.56" />
<line x1="0" y1="212" x2="50" y2="212" stroke="#000" stroke-width="1.56" />
<line x1="3" y1="216" x2="11" y2="208" stroke="#000" stroke-width="1.32" />
<line x1="33" y1="216" x2="41" y2="208" stroke="#000" stroke-width="1.32" />
<line x1="0" y1="237" x2="50" y2="237" stroke="#000" stroke-width="1.56" />
<line x1="3" y1="241" x2="11" y2="233" stroke="#000" stroke-width="1.32" />
<line x1="33" y1="241" x2="41" y2="233" stroke="#000" stroke-width="1.32" />
<line x1="0" y1="280" x2="50" y2="280" stroke="#000" stroke-width="1.56" />
<line x1="3" y1="284" x2="11" y2="276" stroke="#000" stroke-width="1.32" />
<line x1="33" y1="284" x2="41" y2="276" stroke="#000" stroke-width="1.32" />
<line x1="0" y1="359" x2="50" y2="359" stroke="#000" stroke-width="1.56" />
<line x1="3" y1="363" x2="11" y2="355" stroke="#000" stroke-width="1.32" />
<line x1="33" y1="363" x2="41" y2="355" stroke="#000" stroke-width="1.32" />
<text x="35.26" y="195" font-size="22" font-family="Liberation Serif" text-anchor="middle" font-weight="normal" transform="rotate(-90 35.26 195)" stroke="#000" stroke-width="0.3">20</text>
<text x="35.26" y="257" font-size="22" font-family="Liberation Serif" text-anchor="middle" font-weight="normal" transform="rotate(-90 35.26 257)" stroke="#000" stroke-width="0.3">35</text>
<text x="35.26" y="320" font-size="22" font-family="Liberation Serif" text-anchor="middle" font-weight="normal" transform="rotate(-90 35.26 320)" stroke="#000" stroke-width="0.3">65</text>
<text x="3.2600000000000007" y="283" font-size="22" font-family="Liberation Serif" text-anchor="middle" font-weight="normal" transform="rotate(-90 3.2600000000000007 283)" stroke="#000" stroke-width="0.3">120</text>
<rect x="149" y="194" width="124" height="166" fill="none" stroke="#000" stroke-width="2.04" />
<line x1="149" y1="204" x2="273" y2="204" stroke="#000" stroke-width="1.56" />
<line x1="149" y1="211" x2="273" y2="211" stroke="#000" stroke-width="2.04" />
<line x1="236" y1="186" x2="273" y2="186" stroke="#000" stroke-width="1.56" />
<line x1="236" y1="186" x2="236" y2="194" stroke="#000" stroke-width="1.56" />
<line x1="152" y1="204" x2="177" y2="204" stroke="#000" stroke-width="1.56" />
<path d="M177,204 L165.0,207.5 L165.0,200.5 Z" fill="#000"/>
<line x1="225" y1="204" x2="250" y2="204" stroke="#000" stroke-width="1.56" />
<path d="M250,204 L238.0,207.5 L238.0,200.5 Z" fill="#000"/>
<circle cx="256" cy="203" r="4.5" fill="none" stroke="#000" stroke-width="1.44"/>
<path d="M200,201 L220,201 L210,211 Z M200,221 L220,221 L210,211 Z" fill="#000"/>
<circle cx="210" cy="211" r="10" fill="none" stroke="#000" stroke-width="1.56"/>
<line x1="195" y1="226" x2="258" y2="162" stroke="#000" stroke-width="1.32" />
<text x="238" y="183" font-size="14" font-family="Liberation Serif" text-anchor="start" font-weight="normal" transform="rotate(-45 238 183)" >+8,34</text>
<line x1="225" y1="330" x2="225" y2="250" stroke="#000" stroke-width="1.56" />
<path d="M225,250 L230.0,266.0 L220.0,266.0 Z" fill="#000"/>
<rect x="205" y="282" width="17" height="46" fill="#fff"/>
<text x="219.27" y="305" font-size="19" font-family="Liberation Serif" text-anchor="middle" font-weight="normal" transform="rotate(-90 219.27 305)" stroke="#000" stroke-width="0.3">50%</text>
<line x1="64" y1="340" x2="75" y2="352" stroke="#000" stroke-width="1.56" />
<line x1="273" y1="88" x2="1500" y2="88" stroke="#000" stroke-width="2.04" />
<line x1="273" y1="88" x2="273" y2="237" stroke="#000" stroke-width="2.04" />
<line x1="286" y1="101" x2="958" y2="101" stroke="#000" stroke-width="2.04" />
<line x1="286" y1="101" x2="286" y2="237" stroke="#000" stroke-width="2.04" />
<line x1="958" y1="88" x2="958" y2="114" stroke="#000" stroke-width="2.04" />
<line x1="360" y1="170" x2="958" y2="170" stroke="#000" stroke-width="2.04" />
<line x1="329.5" y1="80" x2="329.5" y2="985" stroke="#000" stroke-width="1.68" />
<line x1="360" y1="80" x2="360" y2="985" stroke="#000" stroke-width="1.68" />
<line x1="325.5" y1="92" x2="333.5" y2="84" stroke="#000" stroke-width="1.32" />
<line x1="356" y1="92" x2="364" y2="84" stroke="#000" stroke-width="1.32" />
<line x1="325.5" y1="105" x2="333.5" y2="97" stroke="#000" stroke-width="1.32" />
<line x1="356" y1="105" x2="364" y2="97" stroke="#000" stroke-width="1.32" />
<line x1="325.5" y1="174" x2="333.5" y2="166" stroke="#000" stroke-width="1.32" />
<line x1="356" y1="174" x2="364" y2="166" stroke="#000" stroke-width="1.32" />
<line x1="325.5" y1="241" x2="333.5" y2="233" stroke="#000" stroke-width="1.32" />
<line x1="356" y1="241" x2="364" y2="233" stroke="#000" stroke-width="1.32" />
<line x1="325.5" y1="284" x2="333.5" y2="276" stroke="#000" stroke-width="1.32" />
<line x1="356" y1="284" x2="364" y2="276" stroke="#000" stroke-width="1.32" />
<text x="325.26" y="118" font-size="22" font-family="Liberation Serif" text-anchor="middle" font-weight="normal" transform="rotate(-90 325.26 118)" stroke="#000" stroke-width="0.3">10</text>
<text x="325.26" y="179" font-size="22" font-family="Liberation Serif" text-anchor="middle" font-weight="normal" transform="rotate(-90 325.26 179)" stroke="#000" stroke-width="0.3">110</text>
<text x="357.26" y="161" font-size="22" font-family="Liberation Serif" text-anchor="middle" font-weight="normal" transform="rotate(-90 357.26 161)" stroke="#000" stroke-width="0.3">120</text>
<text x="326.26" y="250" font-size="22" font-family="Liberation Serif" text-anchor="middle" font-weight="normal" transform="rotate(-90 326.26 250)" stroke="#000" stroke-width="0.3">35</text>
<text x="358.26" y="256" font-size="22" font-family="Liberation Serif" text-anchor="middle" font-weight="normal" transform="rotate(-90 358.26 256)" stroke="#000" stroke-width="0.3">35</text>
<text x="325.26" y="340" font-size="22" font-family="Liberation Serif" text-anchor="middle" font-weight="normal" transform="rotate(-90 325.26 340)" stroke="#000" stroke-width="0.3">100</text>
<line x1="402" y1="184" x2="402" y2="294" stroke="#000" stroke-width="1.56" />
<text x="392.26" y="203" font-size="22" font-family="Liberation Serif" text-anchor="middle" font-weight="normal" transform="rotate(-90 392.26 203)" stroke="#000" stroke-width="0.3">120</text>
<text x="425.26" y="203" font-size="22" font-family="Liberation Serif" text-anchor="middle" font-weight="normal" transform="rotate(-90 425.26 203)" stroke="#000" stroke-width="0.3">140</text>
<line x1="396" y1="237" x2="408" y2="237" stroke="#000" stroke-width="1.32" />
<line x1="398" y1="241" x2="406" y2="233" stroke="#000" stroke-width="1.32" />
<line x1="398" y1="284" x2="406" y2="276" stroke="#000" stroke-width="1.32" />
<line x1="328" y1="235" x2="476" y2="235" stroke="#000" stroke-width="1.68" />
<line x1="273" y1="279.5" x2="476" y2="279.5" stroke="#000" stroke-width="2.04" />
<line x1="330" y1="255" x2="475" y2="255" stroke="#000" stroke-width="1.68" />
<line x1="330" y1="265" x2="475" y2="265" stroke="#000" stroke-width="1.68" />
<line x1="332" y1="260.0" x2="473" y2="260.0" stroke="#000" stroke-width="2.4" />
<line x1="330" y1="255" x2="330" y2="265" stroke="#000" stroke-width="1.68" />
<line x1="475" y1="255" x2="475" y2="265" stroke="#000" stroke-width="1.68" />
<rect x="332" y="258.5" width="4" height="3" fill="none" stroke="#000" stroke-width="1.2" />
<rect x="469" y="258.5" width="4" height="3" fill="none" stroke="#000" stroke-width="1.2" />
<text x="272" y="167" font-size="21" font-family="Liberation Serif" text-anchor="start" font-weight="normal" >10</text>
<text x="523" y="122" font-size="17" font-family="Liberation Serif" text-anchor="middle" font-weight="bold" >тераса</text>
<text x="522" y="143" font-size="18" font-family="Liberation Serif" text-anchor="middle" font-weight="bold" >A: 6,66 m<tspan font-size="11" dy="-7">2</tspan></text>
<text x="446" y="164" font-size="13.5" font-family="Liberation Serif" text-anchor="start" font-weight="normal" textLength="117" lengthAdjust="spacingAndGlyphs" fill="#222" stroke="#222" stroke-width="0.25">под-гранитогрес</text>
<text x="446" y="183" font-size="13.5" font-family="Liberation Serif" text-anchor="start" font-weight="normal" textLength="142" lengthAdjust="spacingAndGlyphs" fill="#222" stroke="#222" stroke-width="0.25">стени-влагоуст. маз.</text>
<text x="446" y="202" font-size="13.5" font-family="Liberation Serif" text-anchor="start" font-weight="normal" textLength="40" lengthAdjust="spacingAndGlyphs" fill="#222" stroke="#222" stroke-width="0.25">тавани</text>
<line x1="577" y1="137.5" x2="947" y2="137.5" stroke="#000" stroke-width="1.68" stroke-dasharray="18.5 16.2" stroke-dashoffset="0"/>
<line x1="532" y1="150" x2="947" y2="150" stroke="#000" stroke-width="1.68" stroke-dasharray="18.5 16.2" stroke-dashoffset="0"/>
<path d="M582,209.5 L594,209.5 A12,12 0 0 0 582,197.5 Z" fill="#000"/>
<path d="M582,209.5 L570,209.5 A12,12 0 0 0 582,221.5 Z" fill="#000"/>
<circle cx="582" cy="209.5" r="12" fill="none" stroke="#000" stroke-width="1.56"/>
<line x1="557" y1="209.5" x2="600" y2="209.5" stroke="#000" stroke-width="1.68" />
<line x1="582" y1="184" x2="582" y2="238" stroke="#000" stroke-width="1.68" />
<text x="613" y="207" font-size="17" font-family="Liberation Serif" text-anchor="start" font-weight="normal" >+8,52</text>
<line x1="600" y1="210" x2="657" y2="210" stroke="#000" stroke-width="1.44" />
<text x="621" y="167" font-size="22" font-family="Liberation Serif" text-anchor="middle" font-weight="normal" stroke="#000" stroke-width="0.3">545</text>
<line x1="514" y1="160" x2="514" y2="178" stroke="#000" stroke-width="1.56" />
<line x1="525" y1="160" x2="525" y2="178" stroke="#000" stroke-width="1.56" />
<line x1="600" y1="160" x2="600" y2="178" stroke="#000" stroke-width="1.56" />
<line x1="612" y1="160" x2="612" y2="178" stroke="#000" stroke-width="1.56" />
<line x1="687" y1="160" x2="687" y2="178" stroke="#000" stroke-width="1.56" />
<line x1="697" y1="160" x2="697" y2="178" stroke="#000" stroke-width="1.56" />
<line x1="772" y1="160" x2="772" y2="178" stroke="#000" stroke-width="1.56" />
<line x1="785" y1="160" x2="785" y2="178" stroke="#000" stroke-width="1.56" />
<line x1="857" y1="160" x2="857" y2="178" stroke="#000" stroke-width="1.56" />
<line x1="862" y1="160" x2="862" y2="178" stroke="#000" stroke-width="1.56" />
<line x1="711" y1="160" x2="711" y2="294" stroke="#000" stroke-width="1.68" />
<line x1="821" y1="160" x2="821" y2="294" stroke="#000" stroke-width="1.68" />
<line x1="653" y1="235.3" x2="882" y2="235.3" stroke="#000" stroke-width="1.8" />
<text x="699.26" y="199" font-size="22" font-family="Liberation Serif" text-anchor="middle" font-weight="normal" transform="rotate(-90 699.26 199)" stroke="#000" stroke-width="0.3">90</text>
<text x="728.26" y="205" font-size="22" font-family="Liberation Serif" text-anchor="middle" font-weight="normal" transform="rotate(-90 728.26 205)" stroke="#000" stroke-width="0.3">200</text>
<text x="812.26" y="199" font-size="22" font-family="Liberation Serif" text-anchor="middle" font-weight="normal" transform="rotate(-90 812.26 199)" stroke="#000" stroke-width="0.3">90</text>
<text x="842.26" y="205" font-size="22" font-family="Liberation Serif" text-anchor="middle" font-weight="normal" transform="rotate(-90 842.26 205)" stroke="#000" stroke-width="0.3">200</text>
<line x1="882" y1="80" x2="882" y2="1128" stroke="#000" stroke-width="1.68" />
<line x1="878" y1="92" x2="886" y2="84" stroke="#000" stroke-width="1.32" />
<line x1="878" y1="105" x2="886" y2="97" stroke="#000" stroke-width="1.32" />
<line x1="878" y1="174" x2="886" y2="166" stroke="#000" stroke-width="1.32" />
<line x1="878" y1="241" x2="886" y2="233" stroke="#000" stroke-width="1.32" />
<line x1="878" y1="284" x2="886" y2="276" stroke="#000" stroke-width="1.32" />
<text x="877.26" y="119" font-size="22" font-family="Liberation Serif" text-anchor="middle" font-weight="normal" transform="rotate(-90 877.26 119)" stroke="#000" stroke-width="0.3">10</text>
<text x="877.26" y="178" font-size="22" font-family="Liberation Serif" text-anchor="middle" font-weight="normal" transform="rotate(-90 877.26 178)" stroke="#000" stroke-width="0.3">110</text>
<text x="877.26" y="256" font-size="22" font-family="Liberation Serif" text-anchor="middle" font-weight="normal" transform="rotate(-90 877.26 256)" stroke="#000" stroke-width="0.3">35</text>
<line x1="870" y1="138" x2="946" y2="138" stroke="#000" stroke-width="1.68" stroke-dasharray="18.5 16.2" stroke-dashoffset="0"/>
<line x1="870" y1="212" x2="946" y2="212" stroke="#000" stroke-width="1.68" stroke-dasharray="18.5 16.2" stroke-dashoffset="0"/>
<line x1="946" y1="152" x2="946" y2="212" stroke="#000" stroke-width="1.68" stroke-dasharray="18.5 16.2" stroke-dashoffset="0"/>
<line x1="870" y1="196" x2="870" y2="212" stroke="#000" stroke-width="1.68" stroke-dasharray="18.5 16.2" stroke-dashoffset="0"/>
<text x="568" y="74" font-size="18.5" font-family="Liberation Serif" text-anchor="start" font-weight="normal" textLength="147" lengthAdjust="spacingAndGlyphs" >контур пергола</text>
<line x1="722" y1="63" x2="772" y2="63" stroke="#000" stroke-width="1.56" />
<line x1="772" y1="63" x2="822" y2="137" stroke="#000" stroke-width="1.56" />
<path d="M822,137 L808.9,126.5 L817.2,120.9 Z" fill="#000"/>
<rect x="465" y="280" width="188" height="54" fill="none" stroke="#000" stroke-width="2.04" />
<ellipse cx="560" cy="312" rx="33" ry="21" fill="none" stroke="#000" stroke-width="1.2"/>
<path d="M478,302 L643,301 L643,306 L478,305 Z" fill="none" stroke="#000" stroke-width="1.3"/>
<path d="M478,303.5 L515,300 L515,307 Z" fill="#000"/>
<line x1="657" y1="257" x2="766" y2="257" stroke="#000" stroke-width="1.68" />
<line x1="657" y1="269" x2="766" y2="269" stroke="#000" stroke-width="1.68" />
<line x1="659" y1="263.0" x2="764" y2="263.0" stroke="#000" stroke-width="2.4" />
<line x1="657" y1="257" x2="657" y2="269" stroke="#000" stroke-width="1.68" />
<line x1="766" y1="257" x2="766" y2="269" stroke="#000" stroke-width="1.68" />
<rect x="659" y="261.5" width="4" height="3" fill="none" stroke="#000" stroke-width="1.2" />
<rect x="760" y="261.5" width="4" height="3" fill="none" stroke="#000" stroke-width="1.2" />
<line x1="656" y1="251" x2="766" y2="251" stroke="#000" stroke-width="1.44" />
<line x1="653" y1="280" x2="766" y2="280" stroke="#000" stroke-width="1.8" />
<path d="M766,280 A101,101 0 0 0 867,381" fill="none" stroke="#000" stroke-width="1.44" />
<rect x="868" y="280" width="5" height="90" fill="none" stroke="#000" stroke-width="1.56" />
<line x1="868.5" y1="280" x2="868.5" y2="370" stroke="#000" stroke-width="2.88" />
<line x1="871" y1="280" x2="1000" y2="280" stroke="#000" stroke-width="2.04" />
<line x1="867" y1="307" x2="994" y2="307" stroke="#000" stroke-width="1.32" />
<line x1="882" y1="300" x2="882" y2="314" stroke="#000" stroke-width="1.32" />
<line x1="878" y1="311" x2="886" y2="303" stroke="#000" stroke-width="1.32" />
<line x1="913" y1="300" x2="913" y2="314" stroke="#000" stroke-width="1.32" />
<line x1="909" y1="311" x2="917" y2="303" stroke="#000" stroke-width="1.32" />
<line x1="985" y1="300" x2="985" y2="314" stroke="#000" stroke-width="1.32" />
<line x1="981" y1="311" x2="989" y2="303" stroke="#000" stroke-width="1.32" />
<text x="911" y="304" font-size="21" font-family="Liberation Serif" text-anchor="start" font-weight="normal" >87.5</text>
<line x1="912.2" y1="280" x2="912.2" y2="538" stroke="#000" stroke-width="1.92" />
<line x1="985" y1="280" x2="985" y2="500" stroke="#000" stroke-width="1.8" />
<line x1="916" y1="284" x2="983" y2="494" stroke="#000" stroke-width="1.32" />
<line x1="983" y1="284" x2="916" y2="494" stroke="#000" stroke-width="1.32" />
<text x="878.26" y="389" font-size="22" font-family="Liberation Serif" text-anchor="middle" font-weight="normal" transform="rotate(-90 878.26 389)" stroke="#000" stroke-width="0.3">180</text>
<line x1="1117" y1="113" x2="1345" y2="113" stroke="#000" stroke-width="1.68" />
<line x1="1118" y1="137" x2="1328" y2="137" stroke="#000" stroke-width="1.68" />
<line x1="1118" y1="148" x2="1328" y2="148" stroke="#000" stroke-width="1.68" />
<line x1="1120" y1="142.5" x2="1326" y2="142.5" stroke="#000" stroke-width="2.4" />
<line x1="1118" y1="137" x2="1118" y2="148" stroke="#000" stroke-width="1.68" />
<line x1="1328" y1="137" x2="1328" y2="148" stroke="#000" stroke-width="1.68" />
<rect x="1120" y="141.0" width="4" height="3" fill="none" stroke="#000" stroke-width="1.2" />
<rect x="1322" y="141.0" width="4" height="3" fill="none" stroke="#000" stroke-width="1.2" />
<line x1="1121" y1="145.5" x2="1325" y2="145.5" stroke="#000" stroke-width="3.12" />
<line x1="1228" y1="62" x2="1228" y2="149" stroke="#000" stroke-width="1.56" />
<text x="1220.26" y="80" font-size="22" font-family="Liberation Serif" text-anchor="middle" font-weight="normal" transform="rotate(-90 1220.26 80)" stroke="#000" stroke-width="0.3">180</text>
<text x="1250.26" y="80" font-size="22" font-family="Liberation Serif" text-anchor="middle" font-weight="normal" transform="rotate(-90 1250.26 80)" stroke="#000" stroke-width="0.3">210</text>
<text x="1344.26" y="101" font-size="22" font-family="Liberation Serif" text-anchor="middle" font-weight="normal" transform="rotate(-90 1344.26 101)" stroke="#000" stroke-width="0.3">20</text>
<text x="1344.26" y="133" font-size="22" font-family="Liberation Serif" text-anchor="middle" font-weight="normal" transform="rotate(-90 1344.26 133)" stroke="#000" stroke-width="0.3">35</text>
<line x1="1345" y1="113" x2="1345" y2="1128" stroke="#000" stroke-width="1.68" />
<line x1="1341" y1="92" x2="1349" y2="84" stroke="#000" stroke-width="1.32" />
<line x1="1341" y1="117" x2="1349" y2="109" stroke="#000" stroke-width="1.32" />
<line x1="1341" y1="130" x2="1349" y2="122" stroke="#000" stroke-width="1.32" />
<line x1="1341" y1="159" x2="1349" y2="151" stroke="#000" stroke-width="1.32" />
<line x1="1000" y1="155" x2="1463" y2="155" stroke="#000" stroke-width="2.04" />
<line x1="1000" y1="170" x2="1463" y2="170" stroke="#000" stroke-width="2.04" />
<rect x="1000" y="155" width="74" height="124" fill="none" stroke="#000" stroke-width="1.8" />
<line x1="1003" y1="158" x2="1071" y2="276" stroke="#000" stroke-width="1.32" />
<line x1="1071" y1="158" x2="1003" y2="276" stroke="#000" stroke-width="1.32" />
<line x1="1074" y1="265" x2="1114" y2="265" stroke="#000" stroke-width="1.56" />
<text x="1219" y="167" font-size="22" font-family="Liberation Serif" text-anchor="middle" font-weight="normal" stroke="#000" stroke-width="0.3">375</text>
<text x="1445" y="167" font-size="22" font-family="Liberation Serif" text-anchor="middle" font-weight="normal" stroke="#000" stroke-width="0.3">25</text>
<line x1="1425" y1="157" x2="1425" y2="205" stroke="#000" stroke-width="1.68" />
<rect x="1000" y="280" width="57" height="112" fill="none" stroke="#000" stroke-width="1.8" />
<ellipse cx="1030" cy="337" rx="15" ry="22" fill="none" stroke="#000" stroke-width="1.2"/>
<line x1="1024" y1="281" x2="1024" y2="392" stroke="#000" stroke-width="2.64" />
<line x1="1028" y1="281" x2="1028" y2="392" stroke="#000" stroke-width="1.56" />
<rect x="1003" y="410" width="6" height="91" fill="none" stroke="#000" stroke-width="1.56" />
<path d="M1007,410 A104,104 0 0 1 1085,445" fill="none" stroke="#000" stroke-width="1.44" />
<line x1="1132" y1="427" x2="1132" y2="473" stroke="#000" stroke-width="1.68" />
<line x1="1132" y1="473" x2="1462" y2="473" stroke="#000" stroke-width="2.04" />
<rect x="1216" y="205" width="246" height="205" fill="none" stroke="#000" stroke-width="1.8" />
<rect x="1220" y="210" width="187" height="195" fill="none" stroke="#000" stroke-width="1.56" />
<rect x="1405" y="213" width="50" height="87" fill="none" stroke="#000" stroke-width="1.68" />
<rect x="1405" y="313" width="50" height="87" fill="none" stroke="#000" stroke-width="1.68" />
<path d="M1387,210 L1387,232 L1407,232" fill="none" stroke="#000" stroke-width="1.44" />
<path d="M1387,405 L1387,383 L1407,383" fill="none" stroke="#000" stroke-width="1.44" />
<line x1="1425" y1="410" x2="1425" y2="457" stroke="#000" stroke-width="1.68" />
<text x="1342.26" y="313" font-size="22" font-family="Liberation Serif" text-anchor="middle" font-weight="normal" transform="rotate(-90 1342.26 313)" stroke="#000" stroke-width="0.3">255</text>
<text x="1155" y="251" font-size="17" font-family="Liberation Serif" text-anchor="middle" font-weight="bold" >стая</text>
<text x="1157" y="272" font-size="18" font-family="Liberation Serif" text-anchor="middle" font-weight="bold" >A: 10,02 m<tspan font-size="11" dy="-7">2</tspan></text>
<text x="1104" y="289" font-size="13.5" font-family="Liberation Serif" text-anchor="start" font-weight="normal" textLength="117" lengthAdjust="spacingAndGlyphs" fill="#222" stroke="#222" stroke-width="0.25">под-цим.замазка</text>
<text x="1104" y="308" font-size="13.5" font-family="Liberation Serif" text-anchor="start" font-weight="normal" textLength="163" lengthAdjust="spacingAndGlyphs" fill="#222" stroke="#222" stroke-width="0.25">стени-гипсова мазилка</text>
<text x="1104" y="327" font-size="13.5" font-family="Liberation Serif" text-anchor="start" font-weight="normal" textLength="161" lengthAdjust="spacingAndGlyphs" fill="#222" stroke="#222" stroke-width="0.25">тавани-гипсова мазилка</text>
<text x="1391" y="9.5" font-size="20" font-family="Liberation Serif" text-anchor="start" font-weight="normal" textLength="44" lengthAdjust="spacingAndGlyphs" >борд</text>
<line x1="1443" y1="2.5" x2="1492" y2="2.5" stroke="#000" stroke-width="1.68" />
<line x1="1492" y1="2.5" x2="1500" y2="13.6" stroke="#000" stroke-width="1.68" />
<line x1="130" y1="403" x2="292" y2="403" stroke="#000" stroke-width="2.04" />
<line x1="130" y1="403" x2="130" y2="817.5" stroke="#000" stroke-width="2.04" />
<line x1="292" y1="403" x2="292" y2="460" stroke="#000" stroke-width="1.68" stroke-dasharray="18.5 16.2" stroke-dashoffset="0"/>
<line x1="292" y1="510" x2="292" y2="525" stroke="#000" stroke-width="1.68" stroke-dasharray="18.5 16.2" stroke-dashoffset="0"/>
<line x1="285" y1="525" x2="292" y2="525" stroke="#000" stroke-width="1.68" />
<line x1="112" y1="384" x2="248" y2="520" stroke="#000" stroke-width="1.56" stroke-dasharray="14 8" />
<line x1="246" y1="700" x2="144" y2="800" stroke="#000" stroke-width="1.56" stroke-dasharray="14 8" />
<text x="106" y="457" font-size="22" font-family="Liberation Serif" text-anchor="middle" font-weight="normal" stroke="#000" stroke-width="0.3">35</text>
<text x="223" y="457" font-size="22" font-family="Liberation Serif" text-anchor="middle" font-weight="normal" stroke="#000" stroke-width="0.3">150</text>
<text x="106" y="662" font-size="22" font-family="Liberation Serif" text-anchor="middle" font-weight="normal" stroke="#000" stroke-width="0.3">35</text>
<text x="106" y="741" font-size="22" font-family="Liberation Serif" text-anchor="middle" font-weight="normal" stroke="#000" stroke-width="0.3">35</text>
<text x="223" y="741" font-size="22" font-family="Liberation Serif" text-anchor="middle" font-weight="normal" stroke="#000" stroke-width="0.3">150</text>
<line x1="126" y1="465" x2="134" y2="457" stroke="#000" stroke-width="1.32" />
<line x1="312" y1="465" x2="320" y2="457" stroke="#000" stroke-width="1.32" />
<line x1="316" y1="449" x2="316" y2="472" stroke="#000" stroke-width="1.44" />
<line x1="293" y1="392" x2="513" y2="392" stroke="#000" stroke-width="1.68" stroke-dasharray="18.5 16.2" stroke-dashoffset="0"/>
<line x1="513" y1="292" x2="513" y2="392" stroke="#000" stroke-width="1.68" stroke-dasharray="18.5 16.2" stroke-dashoffset="0"/>
<line x1="315.5" y1="280" x2="315.5" y2="320" stroke="#000" stroke-width="1.68" />
<line x1="315.5" y1="361" x2="315.5" y2="403.4" stroke="#000" stroke-width="1.68" />
<line x1="311.5" y1="284" x2="319.5" y2="276" stroke="#000" stroke-width="1.32" />
<line x1="311.5" y1="407.4" x2="319.5" y2="399.4" stroke="#000" stroke-width="1.32" />
<line x1="316" y1="380" x2="316" y2="403" stroke="#000" stroke-width="1.44" />
<line x1="310" y1="403" x2="341" y2="403" stroke="#000" stroke-width="1.44" />
<circle cx="302" cy="482" r="30" fill="none" stroke="#000" stroke-width="1.56"/>
<line x1="292" y1="472" x2="292" y2="500" stroke="#000" stroke-width="1.44" />
<line x1="280" y1="487" x2="305" y2="487" stroke="#000" stroke-width="1.44" />
<line x1="316" y1="470" x2="316" y2="500" stroke="#000" stroke-width="1.44" />
<ellipse cx="313" cy="722" rx="31" ry="30" fill="none" stroke="#000" stroke-width="1.3"/>
<line x1="310" y1="717" x2="316" y2="717" stroke="#000" stroke-width="1.44" />
<line x1="316" y1="733" x2="316" y2="760" stroke="#000" stroke-width="1.44" />
<line x1="291" y1="700" x2="291" y2="800" stroke="#000" stroke-width="1.68" stroke-dasharray="18.5 16.2" stroke-dashoffset="0"/>
<rect x="131" y="479" width="111" height="17" rx="3" fill="none" stroke="#000" stroke-width="1.6"/>
<rect x="133" y="498" width="109" height="220" rx="3" fill="none" stroke="#000" stroke-width="1.6"/>
<line x1="136" y1="498" x2="136" y2="718" stroke="#000" stroke-width="2.4" />
<line x1="153" y1="498" x2="153" y2="718" stroke="#000" stroke-width="1.8" />
<line x1="166" y1="498" x2="166" y2="718" stroke="#000" stroke-width="1.8" />
<line x1="133" y1="571" x2="242" y2="571" stroke="#000" stroke-width="1.8" />
<line x1="133" y1="645" x2="242" y2="645" stroke="#000" stroke-width="1.8" />
<rect x="131" y="720" width="111" height="17" rx="3" fill="none" stroke="#000" stroke-width="1.6"/>
<line x1="262" y1="524" x2="262" y2="695" stroke="#000" stroke-width="1.68" stroke-dasharray="18.5 16.2" stroke-dashoffset="0"/>
<line x1="262" y1="524" x2="271" y2="524" stroke="#000" stroke-width="1.68" />
<line x1="262" y1="695" x2="279" y2="695" stroke="#000" stroke-width="1.68" />
<rect x="278" y="559" width="50" height="98" fill="none" stroke="#000" stroke-width="1.92" />
<line x1="328" y1="559" x2="328" y2="657" stroke="#000" stroke-width="2.64" />
<text x="324.26" y="610" font-size="22" font-family="Liberation Serif" text-anchor="middle" font-weight="normal" transform="rotate(-90 324.26 610)" stroke="#000" stroke-width="0.3">335</text>
<text x="357.26" y="610" font-size="22" font-family="Liberation Serif" text-anchor="middle" font-weight="normal" transform="rotate(-90 357.26 610)" stroke="#000" stroke-width="0.3">535</text>
<text x="386" y="505" font-size="16.5" font-family="Liberation Serif" text-anchor="start" font-weight="bold" textLength="218" lengthAdjust="spacingAndGlyphs" >дневна, к.бокс,трапезария</text>
<text x="494" y="505" font-size="1" fill="none"></text>
<text x="495" y="526" font-size="18" font-family="Liberation Serif" text-anchor="middle" font-weight="bold" >A: 29,57 m<tspan font-size="11" dy="-7">2</tspan></text>
<text x="416" y="541" font-size="13.5" font-family="Liberation Serif" text-anchor="start" font-weight="normal" textLength="116" lengthAdjust="spacingAndGlyphs" fill="#222" stroke="#222" stroke-width="0.25">под-цим.замазка</text>
<text x="416" y="560" font-size="13.5" font-family="Liberation Serif" text-anchor="start" font-weight="normal" textLength="162" lengthAdjust="spacingAndGlyphs" fill="#222" stroke="#222" stroke-width="0.25">стени-гипсова мазилка</text>
<text x="416" y="579" font-size="13.5" font-family="Liberation Serif" text-anchor="start" font-weight="normal" textLength="162" lengthAdjust="spacingAndGlyphs" fill="#222" stroke="#222" stroke-width="0.25">тавани-гипсова мазилка</text>
<text x="612" y="457" font-size="22" font-family="Liberation Serif" text-anchor="middle" font-weight="normal" stroke="#000" stroke-width="0.3">483</text>
<rect x="405" y="659" width="173" height="111" fill="none" stroke="#000" stroke-width="1.92" />
<rect x="424" y="631" width="50" height="59" fill="none" stroke="#000" stroke-width="1.92" />
<line x1="424" y1="637" x2="474" y2="637" stroke="#000" stroke-width="1.56" />
<line x1="428" y1="631" x2="428" y2="637" stroke="#000" stroke-width="1.44" />
<line x1="470" y1="631" x2="470" y2="637" stroke="#000" stroke-width="1.44" />
<rect x="424" y="740" width="50" height="57" fill="none" stroke="#000" stroke-width="1.92" />
<line x1="424" y1="791" x2="474" y2="791" stroke="#000" stroke-width="1.56" />
<line x1="428" y1="791" x2="428" y2="797" stroke="#000" stroke-width="1.44" />
<line x1="470" y1="791" x2="470" y2="797" stroke="#000" stroke-width="1.44" />
<rect x="509" y="631" width="50" height="59" fill="none" stroke="#000" stroke-width="1.92" />
<line x1="509" y1="637" x2="559" y2="637" stroke="#000" stroke-width="1.56" />
<line x1="513" y1="631" x2="513" y2="637" stroke="#000" stroke-width="1.44" />
<line x1="555" y1="631" x2="555" y2="637" stroke="#000" stroke-width="1.44" />
<rect x="509" y="740" width="50" height="57" fill="none" stroke="#000" stroke-width="1.92" />
<line x1="509" y1="791" x2="559" y2="791" stroke="#000" stroke-width="1.56" />
<line x1="513" y1="791" x2="513" y2="797" stroke="#000" stroke-width="1.44" />
<line x1="555" y1="791" x2="555" y2="797" stroke="#000" stroke-width="1.44" />
<text x="520" y="663" font-size="22" font-family="Liberation Serif" text-anchor="middle" font-weight="normal" stroke="#000" stroke-width="0.3">633</text>
<text x="527" y="742" font-size="22" font-family="Liberation Serif" text-anchor="middle" font-weight="normal" stroke="#000" stroke-width="0.3">363</text>
<text x="771" y="527" font-size="27" font-family="Liberation Serif" text-anchor="middle" font-weight="bold" >Ап. Б5</text>
<text x="769" y="558" font-size="27.3" font-family="Liberation Serif" text-anchor="middle" font-weight="bold" >A: 66,58 m<tspan font-size="17" dy="-11">2</tspan></text>
<path d="M808,640 A104,104 0 0 1 912,536" fill="none" stroke="#000" stroke-width="1.56" />
<rect x="808" y="638" width="104" height="4.5" fill="none" stroke="#000" stroke-width="1.56" />
<path d="M912.2,502 L986,502" fill="none" stroke="#000" stroke-width="1.92" />
<path d="M925.8,517.6 L1005.8,517.6 M925.8,517.6 L925.8,540.4" fill="none" stroke="#000" stroke-width="1.92" />
<rect x="915.4" y="536.4" width="10.4" height="4" fill="none" stroke="#000" stroke-width="1.56" />
<rect x="1002" y="507" width="4" height="10.6" fill="none" stroke="#000" stroke-width="1.56" />
<line x1="985" y1="502" x2="985" y2="612" stroke="#000" stroke-width="1.68" stroke-dasharray="23 6 2 10" stroke-dashoffset="0"/>
<text x="877.26" y="597" font-size="22" font-family="Liberation Serif" text-anchor="middle" font-weight="normal" transform="rotate(-90 877.26 597)" stroke="#000" stroke-width="0.3">157</text>
<text x="910" y="582" font-size="22" font-family="Liberation Serif" text-anchor="middle" font-weight="normal" stroke="#000" stroke-width="0.3">90</text>
<line x1="882" y1="591" x2="939" y2="591" stroke="#000" stroke-width="1.56" />
<text x="915" y="612" font-size="22" font-family="Liberation Serif" text-anchor="middle" font-weight="normal" stroke="#000" stroke-width="0.3">200</text>
<text x="947" y="456" font-size="22" font-family="Liberation Serif" text-anchor="middle" font-weight="normal" stroke="#000" stroke-width="0.3">60</text>
<text x="965" y="491" font-size="22" font-family="Liberation Serif" text-anchor="middle" font-weight="normal" stroke="#000" stroke-width="0.3">12</text>
<line x1="871" y1="502" x2="893" y2="502" stroke="#000" stroke-width="1.44" />
<line x1="878" y1="506" x2="886" y2="498" stroke="#000" stroke-width="1.32" />
<text x="948" y="570" font-size="16.5" font-family="Liberation Serif" text-anchor="start" font-weight="bold" textLength="94" lengthAdjust="spacingAndGlyphs" >предверие</text>
<text x="994" y="590" font-size="18" font-family="Liberation Serif" text-anchor="middle" font-weight="bold" >A: 2,25 m<tspan font-size="11" dy="-7">2</tspan></text>
<text x="931" y="604" font-size="13.5" font-family="Liberation Serif" text-anchor="start" font-weight="normal" textLength="116" lengthAdjust="spacingAndGlyphs" fill="#222" stroke="#222" stroke-width="0.25">под-цим.замазка</text>
<text x="931" y="623" font-size="13.5" font-family="Liberation Serif" text-anchor="start" font-weight="normal" textLength="162" lengthAdjust="spacingAndGlyphs" fill="#222" stroke="#222" stroke-width="0.25">стени-гипсова мазилка</text>
<text x="931" y="642" font-size="13.5" font-family="Liberation Serif" text-anchor="start" font-weight="normal" textLength="162" lengthAdjust="spacingAndGlyphs" fill="#222" stroke="#222" stroke-width="0.25">тавани-гипсова мазилка</text>
<rect x="1013" y="625" width="105" height="6" fill="none" stroke="#000" stroke-width="1.56" />
<path d="M1015,628 A103,103 0 0 1 1082,534" fill="none" stroke="#000" stroke-width="1.44" />
<text x="937" y="662" font-size="22" font-family="Liberation Serif" text-anchor="middle" font-weight="normal" stroke="#000" stroke-width="0.3">12</text>
<text x="1011" y="662" font-size="22" font-family="Liberation Serif" text-anchor="middle" font-weight="normal" stroke="#000" stroke-width="0.3">155</text>
<text x="1099" y="662" font-size="22" font-family="Liberation Serif" text-anchor="middle" font-weight="normal" stroke="#000" stroke-width="0.3">25</text>
<line x1="953" y1="660" x2="991" y2="660" stroke="#000" stroke-width="1.56" />
<line x1="1029" y1="660" x2="1088" y2="660" stroke="#000" stroke-width="1.56" />
<line x1="953" y1="665" x2="1118" y2="665" stroke="#000" stroke-width="2.04" />
<rect x="925" y="665" width="192" height="31" fill="none" stroke="#000" stroke-width="1.8" />
<line x1="925" y1="665" x2="1117" y2="696" stroke="#000" stroke-width="1.32" />
<line x1="925" y1="696" x2="1117" y2="665" stroke="#000" stroke-width="1.32" />
<line x1="880" y1="710" x2="1117" y2="710" stroke="#000" stroke-width="1.8" />
<line x1="898" y1="638" x2="898" y2="706" stroke="#000" stroke-width="1.44" />
<line x1="915" y1="638" x2="915" y2="706" stroke="#000" stroke-width="1.44" />
<line x1="894" y1="645" x2="902" y2="637" stroke="#000" stroke-width="1.32" />
<line x1="911" y1="645" x2="919" y2="637" stroke="#000" stroke-width="1.32" />
<line x1="894" y1="670" x2="902" y2="662" stroke="#000" stroke-width="1.32" />
<line x1="911" y1="670" x2="919" y2="662" stroke="#000" stroke-width="1.32" />
<line x1="894" y1="700" x2="902" y2="692" stroke="#000" stroke-width="1.32" />
<line x1="911" y1="700" x2="919" y2="692" stroke="#000" stroke-width="1.32" />
<text x="893.26" y="673" font-size="22" font-family="Liberation Serif" text-anchor="middle" font-weight="normal" transform="rotate(-90 893.26 673)" stroke="#000" stroke-width="0.3">40</text>
<text x="832.26" y="710" font-size="22" font-family="Liberation Serif" text-anchor="middle" font-weight="normal" transform="rotate(-90 832.26 710)" stroke="#000" stroke-width="0.3">75</text>
<line x1="840" y1="684" x2="840" y2="739" stroke="#000" stroke-width="1.56" />
<text x="864.26" y="706" font-size="22" font-family="Liberation Serif" text-anchor="middle" font-weight="normal" transform="rotate(-90 864.26 706)" stroke="#000" stroke-width="0.3">200</text>
<text x="877.26" y="734" font-size="22" font-family="Liberation Serif" text-anchor="middle" font-weight="normal" transform="rotate(-90 877.26 734)" stroke="#000" stroke-width="0.3">12</text>
<path d="M1090,492.7 L1127.3,492.7" fill="none" stroke="#000" stroke-width="1.92" />
<path d="M1096.7,492.7 L1096.7,532.7 M1099.3,492.7 L1099.3,532.7" fill="none" stroke="#000" stroke-width="1.92" />
<path d="M1099.3,502 L1117.7,502 L1117.7,492.7" fill="none" stroke="#000" stroke-width="1.92" />
<path d="M1088.7,517.7 L1117.3,517.7 L1117.3,526 L1099.3,526" fill="none" stroke="#000" stroke-width="1.92" />
<path d="M1088.7,523 L1112,523" fill="none" stroke="#000" stroke-width="1.92" />
<path d="M1118.7,523.3 L1148,523.3 M1122.7,528 L1148,528 M1118.7,523.3 L1122.7,528" fill="none" stroke="#000" stroke-width="1.92" />
<line x1="1148" y1="503" x2="1300" y2="503" stroke="#000" stroke-width="2.04" />
<line x1="1148" y1="503" x2="1148" y2="529" stroke="#000" stroke-width="2.04" />
<line x1="1051" y1="473" x2="1051" y2="529" stroke="#000" stroke-width="1.56" />
<text x="1044.26" y="500" font-size="22" font-family="Liberation Serif" text-anchor="middle" font-weight="normal" transform="rotate(-90 1044.26 500)" stroke="#000" stroke-width="0.3">80</text>
<text x="1071.26" y="506" font-size="22" font-family="Liberation Serif" text-anchor="middle" font-weight="normal" transform="rotate(-90 1071.26 506)" stroke="#000" stroke-width="0.3">200</text>
<text x="1093" y="451" font-size="22" font-family="Liberation Serif" text-anchor="middle" font-weight="normal" stroke="#000" stroke-width="0.3">95</text>
<text x="1107" y="486" font-size="22" font-family="Liberation Serif" text-anchor="middle" font-weight="normal" stroke="#000" stroke-width="0.3">14,5</text>
<line x1="1118" y1="440" x2="1118" y2="470" stroke="#000" stroke-width="1.44" />
<line x1="1114" y1="465" x2="1122" y2="457" stroke="#000" stroke-width="1.32" />
<text x="1086" y="540" font-size="18" font-family="Liberation Serif" text-anchor="start" font-weight="normal" transform="rotate(-90 1086 540)" >5</text>
<text x="1117" y="571" font-size="22" font-family="Liberation Serif" text-anchor="middle" font-weight="normal" stroke="#000" stroke-width="0.3">90</text>
<line x1="1088" y1="578" x2="1162" y2="578" stroke="#000" stroke-width="1.56" />
<text x="1122" y="601" font-size="22" font-family="Liberation Serif" text-anchor="middle" font-weight="normal" stroke="#000" stroke-width="0.3">200</text>
<text x="1278" y="457" font-size="22" font-family="Liberation Serif" text-anchor="middle" font-weight="normal" stroke="#000" stroke-width="0.3">280</text>
<text x="1445" y="456" font-size="22" font-family="Liberation Serif" text-anchor="middle" font-weight="normal" stroke="#000" stroke-width="0.3">25</text>
<text x="1351" y="533" font-size="16.5" font-family="Liberation Serif" text-anchor="start" font-weight="bold" textLength="134" lengthAdjust="spacingAndGlyphs" >стълба, коридор</text>
<text x="1418" y="554" font-size="18" font-family="Liberation Serif" text-anchor="middle" font-weight="bold" >A: 16,17 m<tspan font-size="11" dy="-7">2</tspan></text>
<text x="1360" y="573" font-size="13.5" font-family="Liberation Serif" text-anchor="start" font-weight="normal" textLength="118" lengthAdjust="spacingAndGlyphs" fill="#222" stroke="#222" stroke-width="0.25">под-гранитогрес</text>
<text x="1360" y="592" font-size="13.5" font-family="Liberation Serif" text-anchor="start" font-weight="normal" textLength="90" lengthAdjust="spacingAndGlyphs" fill="#222" stroke="#222" stroke-width="0.25">стени-латекс</text>
<text x="1360" y="611" font-size="13.5" font-family="Liberation Serif" text-anchor="start" font-weight="normal" textLength="90" lengthAdjust="spacingAndGlyphs" fill="#222" stroke="#222" stroke-width="0.25">тавани-латекс</text>
<text x="1341.26" y="520" font-size="22" font-family="Liberation Serif" text-anchor="middle" font-weight="normal" transform="rotate(-90 1341.26 520)" stroke="#000" stroke-width="0.3">25</text>
<text x="1342.26" y="604" font-size="22" font-family="Liberation Serif" text-anchor="middle" font-weight="normal" transform="rotate(-90 1342.26 604)" stroke="#000" stroke-width="0.3">150</text>
<text x="1402" y="662" font-size="22" font-family="Liberation Serif" text-anchor="middle" font-weight="normal" stroke="#000" stroke-width="0.3">430</text>
<line x1="1398" y1="637" x2="1398" y2="726" stroke="#000" stroke-width="1.56" />
<text x="1389.26" y="688" font-size="22" font-family="Liberation Serif" text-anchor="middle" font-weight="normal" transform="rotate(-90 1389.26 688)" stroke="#000" stroke-width="0.3">95</text>
<text x="1420.26" y="693" font-size="22" font-family="Liberation Serif" text-anchor="middle" font-weight="normal" transform="rotate(-90 1420.26 693)" stroke="#000" stroke-width="0.3">215</text>
<text x="1343.26" y="700" font-size="22" font-family="Liberation Serif" text-anchor="middle" font-weight="normal" transform="rotate(-90 1343.26 700)" stroke="#000" stroke-width="0.3">20</text>
<line x1="1345" y1="711" x2="1500" y2="711" stroke="#000" stroke-width="1.8" />
<rect x="1457" y="686" width="43" height="25" fill="none" stroke="#000" stroke-width="1.8" />
<rect x="1376" y="716" width="63" height="7" fill="none" stroke="#000" stroke-width="1.68" />
<rect x="1328" y="723" width="57" height="4" fill="none" stroke="#000" stroke-width="1.68" />
<rect x="1328" y="730" width="58" height="4" fill="none" stroke="#000" stroke-width="1.68" />
<rect x="1375" y="738" width="64" height="6" fill="none" stroke="#000" stroke-width="1.68" />
<line x1="1148" y1="745" x2="1296" y2="745" stroke="#000" stroke-width="1.92" />
<line x1="1320" y1="745" x2="1500" y2="745" stroke="#000" stroke-width="1.92" />
<line x1="1148" y1="735" x2="1296" y2="735" stroke="#000" stroke-width="1.68" stroke-dasharray="14 6" />
<text x="1210" y="742" font-size="22" font-family="Liberation Serif" text-anchor="middle" font-weight="normal" stroke="#000" stroke-width="0.3">120</text>
<text x="1278" y="742" font-size="22" font-family="Liberation Serif" text-anchor="middle" font-weight="normal" stroke="#000" stroke-width="0.3">20</text>
<text x="1402" y="742" font-size="22" font-family="Liberation Serif" text-anchor="middle" font-weight="normal" stroke="#000" stroke-width="0.3">150</text>
<text x="1490" y="742" font-size="22" font-family="Liberation Serif" text-anchor="middle" font-weight="normal" stroke="#000" stroke-width="0.3">20</text>
<text x="1097" y="742" font-size="22" font-family="Liberation Serif" text-anchor="middle" font-weight="normal" stroke="#000" stroke-width="0.3">25</text>
<text x="943" y="742" font-size="22" font-family="Liberation Serif" text-anchor="middle" font-weight="normal" stroke="#000" stroke-width="0.3">262</text>
<text x="742" y="742" font-size="22" font-family="Liberation Serif" text-anchor="middle" font-weight="normal" stroke="#000" stroke-width="0.3">25</text>
<text x="705" y="751" font-size="32" font-family="Liberation Serif" text-anchor="start" font-weight="normal" stroke="#000" stroke-width="0.6">*</text>
<text x="1210" y="1002" font-size="22" font-family="Liberation Serif" text-anchor="middle" font-weight="normal" stroke="#000" stroke-width="0.3"></text>
<rect x="203" y="779" width="51" height="38.5" fill="none" stroke="#000" stroke-width="1.92" />
<line x1="221" y1="798" x2="221" y2="880" stroke="#000" stroke-width="1.8" />
<line x1="237" y1="798" x2="237" y2="880" stroke="#000" stroke-width="1.8" />
<line x1="221" y1="798" x2="237" y2="798" stroke="#000" stroke-width="1.8" />
<line x1="240" y1="836" x2="240" y2="880" stroke="#000" stroke-width="1.56" />
<line x1="229" y1="846" x2="252" y2="846" stroke="#000" stroke-width="1.56" />
<line x1="130" y1="817" x2="340" y2="817" stroke="#000" stroke-width="1.92" />
<line x1="316" y1="818" x2="316" y2="940" stroke="#000" stroke-width="1.32" />
<line x1="309" y1="817" x2="323" y2="817" stroke="#000" stroke-width="1.32" />
<line x1="312" y1="821" x2="320" y2="813" stroke="#000" stroke-width="1.32" />
<line x1="309" y1="940" x2="323" y2="940" stroke="#000" stroke-width="1.32" />
<line x1="312" y1="944" x2="320" y2="936" stroke="#000" stroke-width="1.32" />
<text x="325.26" y="878" font-size="22" font-family="Liberation Serif" text-anchor="middle" font-weight="normal" transform="rotate(-90 325.26 878)" stroke="#000" stroke-width="0.3">100</text>
<line x1="327" y1="867" x2="580" y2="867" stroke="#000" stroke-width="1.92" />
<line x1="430" y1="867" x2="430" y2="940" stroke="#000" stroke-width="1.8" />
<line x1="504" y1="867" x2="504" y2="940" stroke="#000" stroke-width="1.8" />
<circle cx="466" cy="904" r="11" fill="none" stroke="#000" stroke-width="1.56"/>
<path d="M441,895 L459,893 M475,877 L477,895 M491,913 L473,915 M457,931 L455,913" fill="none" stroke="#000" stroke-width="1.44" />
<text x="525" y="909" font-size="19" font-family="Liberation Sans" text-anchor="start" font-weight="normal" >MM</text>
<rect x="149" y="859" width="124" height="165" fill="none" stroke="#000" stroke-width="2.04" />
<line x1="149" y1="1007" x2="273" y2="1007" stroke="#000" stroke-width="1.8" />
<line x1="149" y1="1016" x2="273" y2="1016" stroke="#000" stroke-width="1.56" />
<line x1="224" y1="860" x2="224" y2="945" stroke="#000" stroke-width="1.56" />
<path d="M224,945 L219.0,929.0 L229.0,929.0 Z" fill="#000"/>
<rect x="205" y="870" width="17" height="46" fill="#fff"/>
<text x="219.27" y="893" font-size="19" font-family="Liberation Serif" text-anchor="middle" font-weight="normal" transform="rotate(-90 219.27 893)" stroke="#000" stroke-width="0.3">50%</text>
<path d="M200,999 L220,999 L210,1009 Z M200,1019 L220,1019 L210,1009 Z" fill="#000"/>
<circle cx="210" cy="1009" r="10" fill="none" stroke="#000" stroke-width="1.56"/>
<line x1="152" y1="1016" x2="177" y2="1016" stroke="#000" stroke-width="1.56" />
<path d="M177,1016 L165.0,1019.5 L165.0,1012.5 Z" fill="#000"/>
<line x1="225" y1="1016" x2="250" y2="1016" stroke="#000" stroke-width="1.56" />
<path d="M250,1016 L238.0,1019.5 L238.0,1012.5 Z" fill="#000"/>
<circle cx="256" cy="1016" r="4.5" fill="none" stroke="#000" stroke-width="1.44"/>
<line x1="195" y1="1024" x2="258" y2="962" stroke="#000" stroke-width="1.32" />
<text x="225" y="985" font-size="14" font-family="Liberation Serif" text-anchor="start" font-weight="normal" transform="rotate(-45 225 985)" >+8,34</text>
<line x1="236" y1="1024" x2="236" y2="1034" stroke="#000" stroke-width="1.56" />
<line x1="236" y1="1034" x2="273" y2="1034" stroke="#000" stroke-width="1.56" />
<line x1="25" y1="940.5" x2="51" y2="940.5" stroke="#000" stroke-width="1.56" />
<line x1="33" y1="944.5" x2="41" y2="936.5" stroke="#000" stroke-width="1.32" />
<line x1="25" y1="981" x2="51" y2="981" stroke="#000" stroke-width="1.56" />
<line x1="33" y1="985" x2="41" y2="977" stroke="#000" stroke-width="1.32" />
<line x1="25" y1="1006.7" x2="51" y2="1006.7" stroke="#000" stroke-width="1.56" />
<line x1="33" y1="1010.7" x2="41" y2="1002.7" stroke="#000" stroke-width="1.32" />
<line x1="3" y1="863" x2="11" y2="855" stroke="#000" stroke-width="1.32" />
<line x1="33" y1="863" x2="41" y2="855" stroke="#000" stroke-width="1.32" />
<text x="35.26" y="837" font-size="22" font-family="Liberation Serif" text-anchor="middle" font-weight="normal" transform="rotate(-90 35.26 837)" stroke="#000" stroke-width="0.3">35</text>
<text x="35.26" y="900" font-size="22" font-family="Liberation Serif" text-anchor="middle" font-weight="normal" transform="rotate(-90 35.26 900)" stroke="#000" stroke-width="0.3">65</text>
<text x="35.26" y="963" font-size="22" font-family="Liberation Serif" text-anchor="middle" font-weight="normal" transform="rotate(-90 35.26 963)" stroke="#000" stroke-width="0.3">35</text>
<text x="17.26" y="994" font-size="22" font-family="Liberation Serif" text-anchor="middle" font-weight="normal" transform="rotate(-90 17.26 994)" stroke="#000" stroke-width="0.3">20</text>
<line x1="88" y1="1050" x2="273" y2="1050" stroke="#000" stroke-width="1.32" />
<line x1="88" y1="1043" x2="88" y2="1057" stroke="#000" stroke-width="1.32" />
<line x1="84" y1="1054" x2="92" y2="1046" stroke="#000" stroke-width="1.32" />
<line x1="148" y1="1043" x2="148" y2="1057" stroke="#000" stroke-width="1.32" />
<line x1="144" y1="1054" x2="152" y2="1046" stroke="#000" stroke-width="1.32" />
<line x1="192" y1="1043" x2="192" y2="1057" stroke="#000" stroke-width="1.32" />
<line x1="188" y1="1054" x2="196" y2="1046" stroke="#000" stroke-width="1.32" />
<line x1="273" y1="1043" x2="273" y2="1057" stroke="#000" stroke-width="1.32" />
<line x1="269" y1="1054" x2="277" y2="1046" stroke="#000" stroke-width="1.32" />
<line x1="88" y1="1084" x2="273" y2="1084" stroke="#000" stroke-width="1.32" />
<line x1="88" y1="1077" x2="88" y2="1091" stroke="#000" stroke-width="1.32" />
<line x1="84" y1="1088" x2="92" y2="1080" stroke="#000" stroke-width="1.32" />
<line x1="148" y1="1077" x2="148" y2="1091" stroke="#000" stroke-width="1.32" />
<line x1="144" y1="1088" x2="152" y2="1080" stroke="#000" stroke-width="1.32" />
<line x1="177" y1="1077" x2="177" y2="1091" stroke="#000" stroke-width="1.32" />
<line x1="173" y1="1088" x2="181" y2="1080" stroke="#000" stroke-width="1.32" />
<line x1="273" y1="1077" x2="273" y2="1091" stroke="#000" stroke-width="1.32" />
<line x1="269" y1="1088" x2="277" y2="1080" stroke="#000" stroke-width="1.32" />
<text x="118" y="1048" font-size="22" font-family="Liberation Serif" text-anchor="middle" font-weight="normal" stroke="#000" stroke-width="0.3">50</text>
<text x="171" y="1048" font-size="22" font-family="Liberation Serif" text-anchor="middle" font-weight="normal" stroke="#000" stroke-width="0.3">35</text>
<text x="232" y="1048" font-size="22" font-family="Liberation Serif" text-anchor="middle" font-weight="normal" stroke="#000" stroke-width="0.3">65</text>
<text x="118" y="1080" font-size="22" font-family="Liberation Serif" text-anchor="middle" font-weight="normal" stroke="#000" stroke-width="0.3">50</text>
<text x="211" y="1080" font-size="22" font-family="Liberation Serif" text-anchor="middle" font-weight="normal" stroke="#000" stroke-width="0.3">100</text>
<text x="88" y="1115" font-size="18.5" font-family="Liberation Serif" text-anchor="start" font-weight="normal" textLength="139" lengthAdjust="spacingAndGlyphs" >контур корниз</text>
<line x1="230" y1="1104" x2="283" y2="1104" stroke="#000" stroke-width="1.56" />
<line x1="283" y1="1104" x2="360" y2="1009" stroke="#000" stroke-width="1.56" />
<path d="M360,1009 L353.8,1024.6 L346.0,1018.3 Z" fill="#000"/>
<line x1="288" y1="1084" x2="330" y2="1084" stroke="#000" stroke-width="1.44" />
<line x1="340" y1="940" x2="500" y2="940" stroke="#000" stroke-width="1.92" />
<line x1="331" y1="941" x2="450" y2="941" stroke="#000" stroke-width="1.8" />
<line x1="331" y1="982" x2="450" y2="982" stroke="#000" stroke-width="1.8" />
<line x1="360" y1="956.5" x2="450" y2="956.5" stroke="#000" stroke-width="2.64" />
<line x1="360" y1="961" x2="450" y2="961" stroke="#000" stroke-width="1.56" />
<line x1="360" y1="964.5" x2="450" y2="964.5" stroke="#000" stroke-width="1.44" />
<rect x="444" y="955" width="6" height="6" fill="none" stroke="#000" stroke-width="1.32" />
<line x1="330" y1="920" x2="330" y2="992" stroke="#000" stroke-width="1.68" />
<line x1="360.4" y1="920" x2="360.4" y2="992" stroke="#000" stroke-width="1.68" />
<line x1="326" y1="945" x2="334" y2="937" stroke="#000" stroke-width="1.32" />
<line x1="356.4" y1="945" x2="364.4" y2="937" stroke="#000" stroke-width="1.32" />
<line x1="326" y1="986" x2="334" y2="978" stroke="#000" stroke-width="1.32" />
<line x1="356.4" y1="986" x2="364.4" y2="978" stroke="#000" stroke-width="1.32" />
<line x1="396.4" y1="927" x2="396.4" y2="1036" stroke="#000" stroke-width="1.68" />
<text x="387.96" y="1022" font-size="22" font-family="Liberation Serif" text-anchor="middle" font-weight="normal" transform="rotate(-90 387.96 1022)" stroke="#000" stroke-width="0.3">90</text>
<text x="419.26" y="1022" font-size="22" font-family="Liberation Serif" text-anchor="middle" font-weight="normal" transform="rotate(-90 419.26 1022)" stroke="#000" stroke-width="0.3">55</text>
<text x="444.26" y="1032" font-size="22" font-family="Liberation Serif" text-anchor="middle" font-weight="normal" transform="rotate(-90 444.26 1032)" stroke="#000" stroke-width="0.3">80</text>
<text x="478.26" y="1000" font-size="22" font-family="Liberation Serif" text-anchor="middle" font-weight="normal" transform="rotate(-90 478.26 1000)" stroke="#000" stroke-width="0.3">25</text>
<text x="477.26" y="1050" font-size="22" font-family="Liberation Serif" text-anchor="middle" font-weight="normal" transform="rotate(-90 477.26 1050)" stroke="#000" stroke-width="0.3">20,35</text>
<line x1="450" y1="973" x2="450" y2="1091" stroke="#000" stroke-width="1.68" />
<line x1="446" y1="1088" x2="454" y2="1080" stroke="#000" stroke-width="1.32" />
<line x1="479.4" y1="1014" x2="479.4" y2="1057" stroke="#000" stroke-width="1.56" />
<line x1="479.4" y1="1014" x2="491" y2="1014" stroke="#000" stroke-width="1.56" />
<line x1="479.4" y1="1057" x2="491" y2="1057" stroke="#000" stroke-width="1.56" />
<line x1="465" y1="955" x2="525" y2="955" stroke="#000" stroke-width="1.44" />
<rect x="690" y="696" width="108" height="49" fill="none" stroke="#000" stroke-width="1.92" />
<rect x="765" y="696" width="30" height="43" fill="url(#hatch)" stroke="#000" stroke-width="1.4"/>
<line x1="690" y1="696" x2="690" y2="940" stroke="#000" stroke-width="1.92" />
<line x1="765" y1="739" x2="765" y2="1128" stroke="#000" stroke-width="1.68" />
<line x1="778" y1="739" x2="778" y2="1128" stroke="#000" stroke-width="1.68" />
<rect x="798" y="711" width="4" height="86" fill="none" stroke="#000" stroke-width="1.44" />
<path d="M800,797 A86,86 0 0 0 880,745" fill="none" stroke="#000" stroke-width="1.44" />
<line x1="691" y1="770" x2="747" y2="770" stroke="#000" stroke-width="1.68" />
<text x="760" y="783" font-size="22" font-family="Liberation Serif" text-anchor="middle" font-weight="normal" stroke="#000" stroke-width="0.3">13</text>
<line x1="768" y1="784" x2="804" y2="784" stroke="#000" stroke-width="1.44" />
<line x1="774" y1="788" x2="782" y2="780" stroke="#000" stroke-width="1.32" />
<line x1="761" y1="788" x2="769" y2="780" stroke="#000" stroke-width="1.32" />
<line x1="578" y1="659" x2="578" y2="770" stroke="#000" stroke-width="1.92" />
<line x1="570" y1="770" x2="578" y2="770" stroke="#000" stroke-width="1.92" />
<rect x="696" y="785" width="61" height="73" fill="none" stroke="#000" stroke-width="1.92" />
<circle cx="713.5" cy="805.5" r="9.6" fill="none" stroke="#000" stroke-width="1.68"/>
<circle cx="740" cy="803" r="8.4" fill="none" stroke="#000" stroke-width="1.68"/>
<circle cx="712" cy="833" r="8.4" fill="none" stroke="#000" stroke-width="1.68"/>
<circle cx="738.7" cy="830.7" r="10.8" fill="none" stroke="#000" stroke-width="1.68"/>
<line x1="722" y1="804" x2="735" y2="804" stroke="#000" stroke-width="1.44" />
<line x1="738" y1="806" x2="738" y2="830" stroke="#000" stroke-width="1.44" />
<circle cx="705" cy="852" r="1.8" fill="none" stroke="#000" stroke-width="1.2"/>
<circle cx="712" cy="852" r="1.8" fill="none" stroke="#000" stroke-width="1.2"/>
<circle cx="719.5" cy="852" r="1.8" fill="none" stroke="#000" stroke-width="1.2"/>
<circle cx="727" cy="852" r="1.8" fill="none" stroke="#000" stroke-width="1.2"/>
<circle cx="734" cy="852" r="1.8" fill="none" stroke="#000" stroke-width="1.2"/>
<line x1="570" y1="866.5" x2="690" y2="866.5" stroke="#000" stroke-width="1.92" />
<rect x="591.5" y="876" width="67" height="61" fill="none" stroke="#000" stroke-width="1.92" />
<rect x="597.5" y="882" width="55" height="44" rx="2" fill="none" stroke="#000" stroke-width="1.4"/>
<rect x="622" y="907" width="5" height="29" fill="#000"/>
<line x1="618" y1="907" x2="618" y2="1128" stroke="#000" stroke-width="1.56" />
<path d="M778,821 L815,821 A23,41 0 0 1 815,903.5 L778,903.5" fill="none" stroke="#000" stroke-width="1.92" />
<path d="M795,826 L815,826 A18,36 0 0 1 815,898 L795,898 Z" fill="none" stroke="#000" stroke-width="1.56" />
<circle cx="790" cy="862" r="3" fill="none" stroke="#000" stroke-width="1.44"/>
<circle cx="812" cy="862" r="3" fill="none" stroke="#000" stroke-width="1.44"/>
<line x1="786" y1="862" x2="806" y2="862" stroke="#000" stroke-width="1.44" />
<text x="877.26" y="862" font-size="22" font-family="Liberation Serif" text-anchor="middle" font-weight="normal" transform="rotate(-90 877.26 862)" stroke="#000" stroke-width="0.3">246</text>
<text x="745" y="938" font-size="22" font-family="Liberation Serif" text-anchor="middle" font-weight="normal" stroke="#000" stroke-width="0.3">12</text>
<line x1="761" y1="944" x2="769" y2="936" stroke="#000" stroke-width="1.32" />
<line x1="774" y1="944" x2="782" y2="936" stroke="#000" stroke-width="1.32" />
<text x="926" y="937" font-size="22" font-family="Liberation Serif" text-anchor="middle" font-weight="normal" stroke="#000" stroke-width="0.3">242</text>
<text x="905" y="773" font-size="16.5" font-family="Liberation Serif" text-anchor="start" font-weight="bold" textLength="122" lengthAdjust="spacingAndGlyphs" >тоалетна, баня</text>
<text x="967" y="793" font-size="18" font-family="Liberation Serif" text-anchor="middle" font-weight="bold" >A: 6,50 m<tspan font-size="11" dy="-7">2</tspan></text>
<text x="898" y="810" font-size="13.5" font-family="Liberation Serif" text-anchor="start" font-weight="normal" textLength="107" lengthAdjust="spacingAndGlyphs" fill="#222" stroke="#222" stroke-width="0.25">под-цим.замазка</text>
<text x="898" y="829" font-size="13.5" font-family="Liberation Serif" text-anchor="start" font-weight="normal" textLength="157" lengthAdjust="spacingAndGlyphs" fill="#222" stroke="#222" stroke-width="0.25">стени-вароцим. мазилка</text>
<text x="898" y="848" font-size="13.5" font-family="Liberation Serif" text-anchor="start" font-weight="normal" textLength="155" lengthAdjust="spacingAndGlyphs" fill="#222" stroke="#222" stroke-width="0.25">тавани-вароцим. мазилка</text>
<line x1="995" y1="712" x2="995" y2="745" stroke="#000" stroke-width="1.68" />
<path d="M1005,718 L1105,718 Q1113,718 1113,726 L1113,822 Q1113,832 1103,832 L1070,832 Q1003,815 998,735 Q998,718 1005,718 Z" fill="none" stroke="#000" stroke-width="1.8" />
<path d="M1012,724 L1102,724 Q1108,724 1108,730 L1108,818 Q1108,826 1100,826 L1072,826 Q1010,810 1004,738 Q1004,724 1012,724 Z" fill="none" stroke="#000" stroke-width="1.44" />
<line x1="1012" y1="731.5" x2="1083" y2="731.5" stroke="#000" stroke-width="1.56" />
<line x1="1084" y1="744" x2="1059" y2="805" stroke="#000" stroke-width="1.44" />
<line x1="1097" y1="748" x2="1097" y2="815" stroke="#000" stroke-width="1.56" />
<line x1="1023" y1="833" x2="1117" y2="833" stroke="#000" stroke-width="1.8" />
<path d="M1062,884 C1040,876 1000,876 998,900 C998,922 1040,924 1062,916 Z" fill="none" stroke="#000" stroke-width="1.5"/>
<line x1="1064" y1="848" x2="1064" y2="1022" stroke="#000" stroke-width="1.68" />
<line x1="1077" y1="857.5" x2="1077" y2="953" stroke="#000" stroke-width="1.68" />
<line x1="1060" y1="861.5" x2="1068" y2="853.5" stroke="#000" stroke-width="1.32" />
<line x1="1060" y1="941.5" x2="1068" y2="933.5" stroke="#000" stroke-width="1.32" />
<line x1="1060" y1="947" x2="1068" y2="939" stroke="#000" stroke-width="1.32" />
<line x1="1060" y1="1019" x2="1068" y2="1011" stroke="#000" stroke-width="1.32" />
<rect x="1086" y="866" width="31" height="84" fill="none" stroke="#000" stroke-width="1.68" />
<line x1="1052" y1="857.5" x2="1117" y2="857.5" stroke="#000" stroke-width="1.56" />
<line x1="1050" y1="859" x2="1080" y2="859" stroke="#000" stroke-width="1.32" />
<line x1="1050" y1="867" x2="1080" y2="867" stroke="#000" stroke-width="1.32" />
<line x1="1050" y1="934" x2="1080" y2="934" stroke="#000" stroke-width="1.32" />
<line x1="1050" y1="942" x2="1080" y2="942" stroke="#000" stroke-width="1.32" />
<text x="1044.94" y="863" font-size="18" font-family="Liberation Serif" text-anchor="middle" font-weight="normal" transform="rotate(-90 1044.94 863)" stroke="#000" stroke-width="0.3">8</text>
<text x="1062.26" y="898" font-size="22" font-family="Liberation Serif" text-anchor="middle" font-weight="normal" transform="rotate(-90 1062.26 898)" stroke="#000" stroke-width="0.3">55</text>
<text x="1044.94" y="938" font-size="18" font-family="Liberation Serif" text-anchor="middle" font-weight="normal" transform="rotate(-90 1044.94 938)" stroke="#000" stroke-width="0.3">8</text>
<text x="1107.26" y="912" font-size="22" font-family="Liberation Serif" text-anchor="middle" font-weight="normal" transform="rotate(-90 1107.26 912)" stroke="#000" stroke-width="0.3">25</text>
<line x1="1052" y1="937.5" x2="1117" y2="937.5" stroke="#000" stroke-width="1.56" />
<line x1="1052" y1="941" x2="1117" y2="941" stroke="#000" stroke-width="1.56" />
<line x1="1052" y1="945" x2="1117" y2="945" stroke="#000" stroke-width="1.56" />
<line x1="1074" y1="956" x2="1117" y2="956" stroke="#000" stroke-width="1.56" />
<text x="1062.26" y="979" font-size="22" font-family="Liberation Serif" text-anchor="middle" font-weight="normal" transform="rotate(-90 1062.26 979)" stroke="#000" stroke-width="0.3">56</text>
<text x="1083" y="974" font-size="18" font-family="Liberation Serif" text-anchor="middle" font-weight="normal" stroke="#000" stroke-width="0.3">8</text>
<line x1="563" y1="955" x2="673" y2="955" stroke="#000" stroke-width="1.68" />
<line x1="563" y1="966" x2="673" y2="966" stroke="#000" stroke-width="1.68" />
<line x1="565" y1="960.5" x2="671" y2="960.5" stroke="#000" stroke-width="2.4" />
<line x1="563" y1="955" x2="563" y2="966" stroke="#000" stroke-width="1.68" />
<line x1="673" y1="955" x2="673" y2="966" stroke="#000" stroke-width="1.68" />
<rect x="565" y="959.0" width="4" height="3" fill="none" stroke="#000" stroke-width="1.2" />
<rect x="667" y="959.0" width="4" height="3" fill="none" stroke="#000" stroke-width="1.2" />
<line x1="562" y1="942" x2="673" y2="942" stroke="#000" stroke-width="1.68" />
<line x1="562" y1="982" x2="673" y2="982" stroke="#000" stroke-width="1.68" />
<line x1="673" y1="942" x2="673" y2="1028" stroke="#000" stroke-width="1.8" />
<rect x="691" y="983" width="56" height="32" fill="none" stroke="#000" stroke-width="1.8" />
<rect x="697" y="989" width="22" height="21" fill="none" stroke="#000" stroke-width="1.56" />
<rect x="722" y="989" width="22" height="21" fill="none" stroke="#000" stroke-width="1.56" />
<line x1="673" y1="1015" x2="1117" y2="1015" stroke="#000" stroke-width="1.8" />
<line x1="673" y1="1028" x2="736" y2="1028" stroke="#000" stroke-width="1.68" />
<line x1="840" y1="1029" x2="1000" y2="1029" stroke="#000" stroke-width="1.68" />
<line x1="840" y1="1041" x2="1000" y2="1041" stroke="#000" stroke-width="1.68" />
<line x1="842" y1="1035.0" x2="998" y2="1035.0" stroke="#000" stroke-width="2.4" />
<line x1="840" y1="1029" x2="840" y2="1041" stroke="#000" stroke-width="1.68" />
<line x1="1000" y1="1029" x2="1000" y2="1041" stroke="#000" stroke-width="1.68" />
<rect x="842" y="1033.5" width="4" height="3" fill="none" stroke="#000" stroke-width="1.2" />
<rect x="994" y="1033.5" width="4" height="3" fill="none" stroke="#000" stroke-width="1.2" />
<line x1="777" y1="1015" x2="777" y2="1045" stroke="#000" stroke-width="1.68" />
<line x1="1000" y1="1015" x2="1000" y2="1055" stroke="#000" stroke-width="1.68" />
<text x="878.26" y="1040" font-size="22" font-family="Liberation Serif" text-anchor="middle" font-weight="normal" transform="rotate(-90 878.26 1040)" stroke="#000" stroke-width="0.3">35</text>
<rect x="520" y="984" width="215" height="114" fill="none" stroke="#000" stroke-width="1.92" />
<rect x="521" y="985" width="28" height="112" fill="#fff"/>
<text x="539.27" y="1010" font-size="19" font-family="Liberation Serif" text-anchor="middle" font-weight="normal" transform="rotate(-90 539.27 1010)" stroke="#000" stroke-width="0.3">50%</text>
<line x1="546" y1="984" x2="546" y2="1060" stroke="#000" stroke-width="1.56" />
<path d="M546,1060 L541.0,1044.0 L551.0,1044.0 Z" fill="#000"/>
<path d="M525,1070 L545,1070 L535,1080 Z M525,1090 L545,1090 L535,1080 Z" fill="#000"/>
<line x1="550" y1="1091" x2="575" y2="1091" stroke="#000" stroke-width="1.56" />
<path d="M575,1091 L563.0,1094.5 L563.0,1087.5 Z" fill="#000"/>
<line x1="612" y1="1091" x2="640" y2="1091" stroke="#000" stroke-width="1.56" />
<path d="M640,1091 L628.0,1094.5 L628.0,1087.5 Z" fill="#000"/>
<line x1="698" y1="1098" x2="698" y2="1110" stroke="#000" stroke-width="1.56" />
<line x1="698" y1="1110" x2="736" y2="1110" stroke="#000" stroke-width="1.56" />
<text x="659.26" y="1013" font-size="22" font-family="Liberation Serif" text-anchor="middle" font-weight="normal" transform="rotate(-90 659.26 1013)" stroke="#000" stroke-width="0.3">12,25</text>
<text x="703" y="1052" font-size="22" font-family="Liberation Serif" text-anchor="middle" font-weight="normal" stroke="#000" stroke-width="0.3">12,45</text>
<text x="575" y="1045" font-size="14" font-family="Liberation Serif" text-anchor="start" font-weight="normal" transform="rotate(-45 575 1045)" >+8,34</text>
<text x="539" y="1128" font-size="22" font-family="Liberation Serif" text-anchor="middle" font-weight="normal" stroke="#000" stroke-width="0.3">35</text>
<text x="648" y="1128" font-size="22" font-family="Liberation Serif" text-anchor="middle" font-weight="normal" stroke="#000" stroke-width="0.3">140</text>
<text x="829.27" y="1092" font-size="19" font-family="Liberation Serif" text-anchor="middle" font-weight="normal" transform="rotate(-90 829.27 1092)" stroke="#000" stroke-width="0.3">50%</text>
<line x1="832" y1="1066" x2="832" y2="1128" stroke="#000" stroke-width="1.56" />
<line x1="919" y1="1000" x2="919" y2="1128" stroke="#000" stroke-width="1.56" />
<line x1="958" y1="1104" x2="946" y2="1084" stroke="#000" stroke-width="1.56" />
<path d="M946,1084 L958.5,1095.1 L949.9,1100.3 Z" fill="#000"/>
<line x1="1148" y1="746" x2="1296" y2="746" stroke="#000" stroke-width="1.8" />
<line x1="1148" y1="767.6" x2="1296" y2="767.6" stroke="#000" stroke-width="1.8" />
<line x1="1148" y1="803.6" x2="1296" y2="803.6" stroke="#000" stroke-width="1.8" />
<line x1="1148" y1="842" x2="1296" y2="842" stroke="#000" stroke-width="1.8" />
<line x1="1148" y1="878" x2="1296" y2="878" stroke="#000" stroke-width="1.8" />
<line x1="1148" y1="916.4" x2="1296" y2="916.4" stroke="#000" stroke-width="1.8" />
<line x1="1148" y1="772.4" x2="1296" y2="772.4" stroke="#000" stroke-width="1.68" stroke-dasharray="14 6" />
<line x1="1148" y1="809.6" x2="1296" y2="809.6" stroke="#000" stroke-width="1.68" stroke-dasharray="14 6" />
<line x1="1148" y1="846.8" x2="1296" y2="846.8" stroke="#000" stroke-width="1.68" stroke-dasharray="14 6" />
<line x1="1148" y1="884" x2="1296" y2="884" stroke="#000" stroke-width="1.68" stroke-dasharray="14 6" />
<line x1="1222.8" y1="746" x2="1222.8" y2="893" stroke="#000" stroke-width="1.56" />
<path d="M1201,893.6 L1244,893.6 L1222.8,915 Z" fill="none" stroke="#000" stroke-width="1.68" />
<text x="1243.94" y="821" font-size="18" font-family="Liberation Serif" text-anchor="middle" font-weight="normal" transform="rotate(-90 1243.94 821)" stroke="#000" stroke-width="0.3">бет. 16,1/30</text>
<line x1="1148" y1="921" x2="1300" y2="921" stroke="#000" stroke-width="1.68" stroke-dasharray="14 6" />
<text x="1138" y="937" font-size="22" font-family="Liberation Serif" text-anchor="middle" font-weight="normal" stroke="#000" stroke-width="0.3">25</text>
<text x="1222" y="937" font-size="22" font-family="Liberation Serif" text-anchor="middle" font-weight="normal" stroke="#000" stroke-width="0.3">120</text>
<text x="1414" y="937" font-size="22" font-family="Liberation Serif" text-anchor="middle" font-weight="normal" stroke="#000" stroke-width="0.3">190</text>
<path d="M1344,750.6 L1325.3,750.6 L1325.3,888 L1459,888 L1459,750.6 L1438.4,750.6 L1438.4,755.6 L1454,755.6 L1454,882 L1331.3,882 L1331.3,755.6 L1344,755.6 Z" fill="none" stroke="#000" stroke-width="2.04" />
<rect x="1471" y="751" width="23.5" height="9" fill="none" stroke="#000" stroke-width="1.92" />
<rect x="1465.4" y="762" width="5.6" height="7" fill="none" stroke="#000" stroke-width="1.8" />
<rect x="1469" y="770" width="20.5" height="76" fill="none" stroke="#000" stroke-width="1.92" />
<circle cx="1476.7" cy="808" r="4.3" fill="none" stroke="#000" stroke-width="1.92"/>
<rect x="1489.5" y="799.6" width="10.5" height="15" fill="none" stroke="#000" stroke-width="1.8" />
<rect x="1465.4" y="846" width="5.6" height="7.5" fill="none" stroke="#000" stroke-width="1.8" />
<rect x="1471" y="855.6" width="23.5" height="10" fill="none" stroke="#000" stroke-width="1.92" />
<text x="1355" y="758" font-size="16.5" font-family="Liberation Serif" text-anchor="start" font-weight="bold" textLength="80" lengthAdjust="spacingAndGlyphs" >асансьор</text>
<text x="1391" y="779" font-size="18" font-family="Liberation Serif" text-anchor="middle" font-weight="bold" >A: 2,25 m<tspan font-size="11" dy="-7">2</tspan></text>
<text x="1348" y="802" font-size="13.5" font-family="Liberation Serif" text-anchor="start" font-weight="normal" textLength="27" lengthAdjust="spacingAndGlyphs" fill="#222" stroke="#222" stroke-width="0.25">под-</text>
<text x="1348" y="821" font-size="13.5" font-family="Liberation Serif" text-anchor="start" font-weight="normal" textLength="147" lengthAdjust="spacingAndGlyphs" fill="#222" stroke="#222" stroke-width="0.25">стени-стом.бет.к-ция</text>
<text x="1348" y="840" font-size="13.5" font-family="Liberation Serif" text-anchor="start" font-weight="normal" textLength="147" lengthAdjust="spacingAndGlyphs" fill="#222" stroke="#222" stroke-width="0.25">тавани-стом.бет.к-ция</text>
<text x="1343.26" y="829" font-size="22" font-family="Liberation Serif" text-anchor="middle" font-weight="normal" transform="rotate(-90 1343.26 829)" stroke="#000" stroke-width="0.3">150</text>
<text x="1343.26" y="908" font-size="22" font-family="Liberation Serif" text-anchor="middle" font-weight="normal" transform="rotate(-90 1343.26 908)" stroke="#000" stroke-width="0.3">20</text>
<line x1="1345" y1="911" x2="1345" y2="1070" stroke="#000" stroke-width="1.8" />
<line x1="1359" y1="921" x2="1359" y2="1070" stroke="#000" stroke-width="1.68" />
<line x1="1395" y1="921" x2="1395" y2="1070" stroke="#000" stroke-width="1.68" />
<line x1="1432" y1="921" x2="1432" y2="1070" stroke="#000" stroke-width="1.68" />
<line x1="1469" y1="921" x2="1469" y2="1070" stroke="#000" stroke-width="1.68" />
<line x1="1363" y1="921" x2="1363" y2="1070" stroke="#000" stroke-width="1.56" stroke-dasharray="10 5" />
<line x1="1400" y1="921" x2="1400" y2="1070" stroke="#000" stroke-width="1.56" stroke-dasharray="10 5" />
<line x1="1437" y1="921" x2="1437" y2="1070" stroke="#000" stroke-width="1.56" stroke-dasharray="10 5" />
<line x1="1475" y1="921" x2="1475" y2="1070" stroke="#000" stroke-width="1.56" stroke-dasharray="10 5" />
<line x1="1345" y1="995" x2="1484" y2="995" stroke="#000" stroke-width="1.56" />
<path d="M1484,974 L1500,995 L1484,1017" fill="none" stroke="#000" stroke-width="1.68" />
<text x="1413" y="1018" font-size="18" font-family="Liberation Serif" text-anchor="middle" font-weight="normal" stroke="#000" stroke-width="0.3">бет. 16,1/30</text>
<text x="1344.26" y="994" font-size="22" font-family="Liberation Serif" text-anchor="middle" font-weight="normal" transform="rotate(-90 1344.26 994)" stroke="#000" stroke-width="0.3">120</text>
<circle cx="1321" cy="995" r="4" fill="none" stroke="#000" stroke-width="1.8"/>
<path d="M1197,991 L1209,991 A12,12 0 0 0 1197,979 Z" fill="#000"/>
<path d="M1197,991 L1185,991 A12,12 0 0 0 1197,1003 Z" fill="#000"/>
<circle cx="1197" cy="991" r="12" fill="none" stroke="#000" stroke-width="1.56"/>
<line x1="1172" y1="991" x2="1271" y2="991" stroke="#000" stroke-width="1.68" />
<line x1="1197" y1="967" x2="1197" y2="1017" stroke="#000" stroke-width="1.68" />
<text x="1229" y="990" font-size="17" font-family="Liberation Serif" text-anchor="start" font-weight="normal" >+6.47</text>
<line x1="1321" y1="920" x2="1321" y2="1128" stroke="#000" stroke-width="1.8" />
<line x1="1148" y1="941" x2="1500" y2="941" stroke="#000" stroke-width="1.8" />
<line x1="1118" y1="1070" x2="1500" y2="1070" stroke="#000" stroke-width="1.8" />
<text x="1344.26" y="1089" font-size="22" font-family="Liberation Serif" text-anchor="middle" font-weight="normal" transform="rotate(-90 1344.26 1089)" stroke="#000" stroke-width="0.3">35</text>
<line x1="1199" y1="1113" x2="1199" y2="1128" stroke="#000" stroke-width="1.56" />
<line x1="1271" y1="1113" x2="1271" y2="1128" stroke="#000" stroke-width="1.56" />
<line x1="1309" y1="1113" x2="1309" y2="1128" stroke="#000" stroke-width="1.56" />
<line x1="1345" y1="1113" x2="1345" y2="1128" stroke="#000" stroke-width="1.56" />
<line x1="1479" y1="1113" x2="1479" y2="1128" stroke="#000" stroke-width="1.56" />
<line x1="0" y1="859" x2="90" y2="859" stroke="#000" stroke-width="2.4" />
<line x1="0" y1="573" x2="62" y2="597" stroke="#000" stroke-width="1.56" />
<path d="M62,597 L37.5,593.9 L41.8,582.7 Z" fill="#000"/>
<text x="35.26" y="610" font-size="22" font-family="Liberation Serif" text-anchor="middle" font-weight="normal" transform="rotate(-90 35.26 610)" stroke="#000" stroke-width="0.3">335</text>
<rect x="0" y="665" width="60" height="23" fill="#fff"/>
<text x="13" y="683" font-size="19" font-family="Liberation Serif" text-anchor="start" font-weight="normal" >50%</text>
<line x1="0" y1="689" x2="62" y2="689" stroke="#000" stroke-width="1.8" />
<text x="327.26" y="965" font-size="22" font-family="Liberation Serif" text-anchor="middle" font-weight="normal" transform="rotate(-90 327.26 965)" stroke="#000" stroke-width="0.3">35</text>
<text x="359.26" y="965" font-size="22" font-family="Liberation Serif" text-anchor="middle" font-weight="normal" transform="rotate(-90 359.26 965)" stroke="#000" stroke-width="0.3">35</text>
<line x1="1133" y1="629" x2="1133" y2="1070" stroke="#000" stroke-width="1.56" />
<line x1="1118" y1="666" x2="1147" y2="666" stroke="#000" stroke-width="1.56" />
<line x1="1118" y1="701" x2="1147" y2="701" stroke="#000" stroke-width="1.56" />
<line x1="1118" y1="745" x2="1147" y2="745" stroke="#000" stroke-width="1.56" />
<line x1="1118" y1="800" x2="1147" y2="800" stroke="#000" stroke-width="1.56" />
<line x1="1118" y1="858" x2="1147" y2="858" stroke="#000" stroke-width="1.56" />
<line x1="1118" y1="909" x2="1147" y2="909" stroke="#000" stroke-width="1.56" />
<line x1="1118" y1="941" x2="1147" y2="941" stroke="#000" stroke-width="1.56" />
<line x1="1118" y1="1031" x2="1147" y2="1031" stroke="#000" stroke-width="1.56" />
<line x1="1308" y1="686" x2="1308" y2="920" stroke="#000" stroke-width="1.56" />
<line x1="1297" y1="745" x2="1320" y2="745" stroke="#000" stroke-width="1.56" />
<line x1="1297" y1="859" x2="1320" y2="859" stroke="#000" stroke-width="1.56" />
<line x1="1297" y1="909" x2="1320" y2="909" stroke="#000" stroke-width="1.56" />
<line x1="1477" y1="132" x2="1477" y2="501" stroke="#000" stroke-width="1.56" />
<line x1="1463" y1="200" x2="1493" y2="200" stroke="#000" stroke-width="1.56" />
<line x1="1463" y1="261" x2="1493" y2="261" stroke="#000" stroke-width="1.56" />
<line x1="1463" y1="441" x2="1493" y2="441" stroke="#000" stroke-width="1.56" />
<line x1="1463" y1="460" x2="1493" y2="460" stroke="#000" stroke-width="1.56" />
<line x1="1463" y1="487" x2="1493" y2="487" stroke="#000" stroke-width="1.56" />
<line x1="1493" y1="132" x2="1493" y2="501" stroke="#000" stroke-width="1.8" />
<line x1="985" y1="280" x2="985" y2="500" stroke="#000" stroke-width="3.12" />
<line x1="1000" y1="280" x2="1000" y2="500" stroke="#000" stroke-width="1.68" />
<line x1="578" y1="867" x2="578" y2="940" stroke="#000" stroke-width="1.8" />
<line x1="735" y1="855" x2="735" y2="907" stroke="#000" stroke-width="1.68" stroke-dasharray="18.5 16.2" stroke-dashoffset="0"/>
<line x1="63" y1="360" x2="63" y2="859" stroke="#000" stroke-width="1.32" />
<line x1="194" y1="195" x2="229" y2="231" stroke="#000" stroke-width="1.32" />
<text x="34.26" y="383" font-size="22" font-family="Liberation Serif" text-anchor="middle" font-weight="normal" transform="rotate(-90 34.26 383)" stroke="#000" stroke-width="0.3">35</text>
<text x="48" y="742" font-size="22" font-family="Liberation Serif" text-anchor="middle" font-weight="normal" stroke="#000" stroke-width="0.3">65</text></svg></body></html>
